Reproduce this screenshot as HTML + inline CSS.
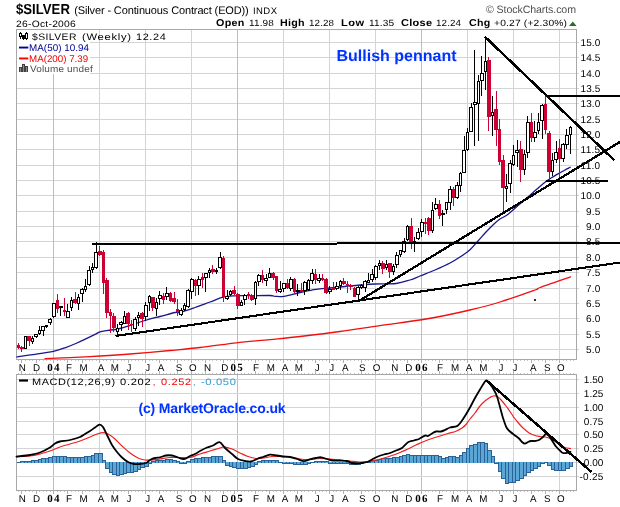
<!DOCTYPE html>
<html><head><meta charset="utf-8"><title>$SILVER</title>
<style>
html,body{margin:0;padding:0;background:#fff;}
#c{position:relative;width:620px;height:507px;overflow:hidden;background:#fff;}
#c svg{position:absolute;left:0;top:0;}
#t{position:absolute;left:0;top:0;width:620px;height:507px;will-change:transform;}
#c span{position:absolute;white-space:pre;display:block;text-rendering:geometricPrecision;}
</style></head><body>
<div id="c">
<svg width="620" height="507" viewBox="0 0 620 507">
<g shape-rendering="crispEdges">
<rect x="16" y="42" width="563" height="1" fill="#d4d4d4"/>
<rect x="16" y="57" width="563" height="1" fill="#d4d4d4"/>
<rect x="16" y="73" width="563" height="1" fill="#d4d4d4"/>
<rect x="16" y="88" width="563" height="1" fill="#d4d4d4"/>
<rect x="16" y="103" width="563" height="1" fill="#d4d4d4"/>
<rect x="16" y="119" width="563" height="1" fill="#d4d4d4"/>
<rect x="16" y="134" width="563" height="1" fill="#d4d4d4"/>
<rect x="16" y="149" width="563" height="1" fill="#d4d4d4"/>
<rect x="16" y="165" width="563" height="1" fill="#d4d4d4"/>
<rect x="16" y="180" width="563" height="1" fill="#d4d4d4"/>
<rect x="16" y="195" width="563" height="1" fill="#d4d4d4"/>
<rect x="16" y="211" width="563" height="1" fill="#d4d4d4"/>
<rect x="16" y="226" width="563" height="1" fill="#d4d4d4"/>
<rect x="16" y="241" width="563" height="1" fill="#d4d4d4"/>
<rect x="16" y="257" width="563" height="1" fill="#d4d4d4"/>
<rect x="16" y="272" width="563" height="1" fill="#d4d4d4"/>
<rect x="16" y="288" width="563" height="1" fill="#d4d4d4"/>
<rect x="16" y="303" width="563" height="1" fill="#d4d4d4"/>
<rect x="16" y="318" width="563" height="1" fill="#d4d4d4"/>
<rect x="16" y="334" width="563" height="1" fill="#d4d4d4"/>
<rect x="16" y="349" width="563" height="1" fill="#d4d4d4"/>
<rect x="53" y="29" width="1" height="330" fill="#bdbdbd"/>
<rect x="53" y="374" width="1" height="116" fill="#bdbdbd"/>
<rect x="99" y="29" width="1" height="330" fill="#d4d4d4"/>
<rect x="99" y="374" width="1" height="116" fill="#d4d4d4"/>
<rect x="145" y="29" width="1" height="330" fill="#d4d4d4"/>
<rect x="145" y="374" width="1" height="116" fill="#d4d4d4"/>
<rect x="191" y="29" width="1" height="330" fill="#d4d4d4"/>
<rect x="191" y="374" width="1" height="116" fill="#d4d4d4"/>
<rect x="237" y="29" width="1" height="330" fill="#bdbdbd"/>
<rect x="237" y="374" width="1" height="116" fill="#bdbdbd"/>
<rect x="283" y="29" width="1" height="330" fill="#d4d4d4"/>
<rect x="283" y="374" width="1" height="116" fill="#d4d4d4"/>
<rect x="329" y="29" width="1" height="330" fill="#d4d4d4"/>
<rect x="329" y="374" width="1" height="116" fill="#d4d4d4"/>
<rect x="375" y="29" width="1" height="330" fill="#d4d4d4"/>
<rect x="375" y="374" width="1" height="116" fill="#d4d4d4"/>
<rect x="421" y="29" width="1" height="330" fill="#bdbdbd"/>
<rect x="421" y="374" width="1" height="116" fill="#bdbdbd"/>
<rect x="467" y="29" width="1" height="330" fill="#d4d4d4"/>
<rect x="467" y="374" width="1" height="116" fill="#d4d4d4"/>
<rect x="513" y="29" width="1" height="330" fill="#d4d4d4"/>
<rect x="513" y="374" width="1" height="116" fill="#d4d4d4"/>
<rect x="559" y="29" width="1" height="330" fill="#d4d4d4"/>
<rect x="559" y="374" width="1" height="116" fill="#d4d4d4"/>
<rect x="16" y="476" width="563" height="1" fill="#d4d4d4"/>
<rect x="16" y="462" width="563" height="1" fill="#d4d4d4"/>
<rect x="16" y="448" width="563" height="1" fill="#d4d4d4"/>
<rect x="16" y="434" width="563" height="1" fill="#d4d4d4"/>
<rect x="16" y="421" width="563" height="1" fill="#d4d4d4"/>
<rect x="16" y="407" width="563" height="1" fill="#d4d4d4"/>
<rect x="16" y="393" width="563" height="1" fill="#d4d4d4"/>
<rect x="16" y="379" width="563" height="1" fill="#d4d4d4"/>
<rect x="16" y="29" width="561" height="1" fill="#a8a8a8"/>
<rect x="16" y="359" width="561" height="1" fill="#a8a8a8"/>
<rect x="16" y="29" width="1" height="331" fill="#a8a8a8"/>
<rect x="576" y="29" width="1" height="331" fill="#a8a8a8"/>
<rect x="16" y="374" width="561" height="1" fill="#a8a8a8"/>
<rect x="16" y="490" width="561" height="1" fill="#a8a8a8"/>
<rect x="16" y="374" width="1" height="117" fill="#a8a8a8"/>
<rect x="576" y="374" width="1" height="117" fill="#a8a8a8"/>
<rect x="18" y="360" width="1" height="1" fill="#c4c4c4"/>
<rect x="18" y="373" width="1" height="1" fill="#c4c4c4"/>
<rect x="18" y="491" width="1" height="1" fill="#c4c4c4"/>
<rect x="21" y="360" width="1" height="3" fill="#b0b0b0"/>
<rect x="21" y="371" width="1" height="3" fill="#b0b0b0"/>
<rect x="21" y="491" width="1" height="3" fill="#b0b0b0"/>
<rect x="25" y="360" width="1" height="1" fill="#c4c4c4"/>
<rect x="25" y="373" width="1" height="1" fill="#c4c4c4"/>
<rect x="25" y="491" width="1" height="1" fill="#c4c4c4"/>
<rect x="29" y="360" width="1" height="1" fill="#c4c4c4"/>
<rect x="29" y="373" width="1" height="1" fill="#c4c4c4"/>
<rect x="29" y="491" width="1" height="1" fill="#c4c4c4"/>
<rect x="32" y="360" width="1" height="1" fill="#c4c4c4"/>
<rect x="32" y="373" width="1" height="1" fill="#c4c4c4"/>
<rect x="32" y="491" width="1" height="1" fill="#c4c4c4"/>
<rect x="36" y="360" width="1" height="3" fill="#b0b0b0"/>
<rect x="36" y="371" width="1" height="3" fill="#b0b0b0"/>
<rect x="36" y="491" width="1" height="3" fill="#b0b0b0"/>
<rect x="39" y="360" width="1" height="1" fill="#c4c4c4"/>
<rect x="39" y="373" width="1" height="1" fill="#c4c4c4"/>
<rect x="39" y="491" width="1" height="1" fill="#c4c4c4"/>
<rect x="43" y="360" width="1" height="1" fill="#c4c4c4"/>
<rect x="43" y="373" width="1" height="1" fill="#c4c4c4"/>
<rect x="43" y="491" width="1" height="1" fill="#c4c4c4"/>
<rect x="46" y="360" width="1" height="1" fill="#c4c4c4"/>
<rect x="46" y="373" width="1" height="1" fill="#c4c4c4"/>
<rect x="46" y="491" width="1" height="1" fill="#c4c4c4"/>
<rect x="50" y="360" width="1" height="1" fill="#c4c4c4"/>
<rect x="50" y="373" width="1" height="1" fill="#c4c4c4"/>
<rect x="50" y="491" width="1" height="1" fill="#c4c4c4"/>
<rect x="53" y="360" width="1" height="3" fill="#b0b0b0"/>
<rect x="53" y="371" width="1" height="3" fill="#b0b0b0"/>
<rect x="53" y="491" width="1" height="3" fill="#b0b0b0"/>
<rect x="57" y="360" width="1" height="1" fill="#c4c4c4"/>
<rect x="57" y="373" width="1" height="1" fill="#c4c4c4"/>
<rect x="57" y="491" width="1" height="1" fill="#c4c4c4"/>
<rect x="60" y="360" width="1" height="1" fill="#c4c4c4"/>
<rect x="60" y="373" width="1" height="1" fill="#c4c4c4"/>
<rect x="60" y="491" width="1" height="1" fill="#c4c4c4"/>
<rect x="64" y="360" width="1" height="1" fill="#c4c4c4"/>
<rect x="64" y="373" width="1" height="1" fill="#c4c4c4"/>
<rect x="64" y="491" width="1" height="1" fill="#c4c4c4"/>
<rect x="67" y="360" width="1" height="3" fill="#b0b0b0"/>
<rect x="67" y="371" width="1" height="3" fill="#b0b0b0"/>
<rect x="67" y="491" width="1" height="3" fill="#b0b0b0"/>
<rect x="71" y="360" width="1" height="1" fill="#c4c4c4"/>
<rect x="71" y="373" width="1" height="1" fill="#c4c4c4"/>
<rect x="71" y="491" width="1" height="1" fill="#c4c4c4"/>
<rect x="75" y="360" width="1" height="1" fill="#c4c4c4"/>
<rect x="75" y="373" width="1" height="1" fill="#c4c4c4"/>
<rect x="75" y="491" width="1" height="1" fill="#c4c4c4"/>
<rect x="78" y="360" width="1" height="1" fill="#c4c4c4"/>
<rect x="78" y="373" width="1" height="1" fill="#c4c4c4"/>
<rect x="78" y="491" width="1" height="1" fill="#c4c4c4"/>
<rect x="82" y="360" width="1" height="3" fill="#b0b0b0"/>
<rect x="82" y="371" width="1" height="3" fill="#b0b0b0"/>
<rect x="82" y="491" width="1" height="3" fill="#b0b0b0"/>
<rect x="85" y="360" width="1" height="1" fill="#c4c4c4"/>
<rect x="85" y="373" width="1" height="1" fill="#c4c4c4"/>
<rect x="85" y="491" width="1" height="1" fill="#c4c4c4"/>
<rect x="89" y="360" width="1" height="1" fill="#c4c4c4"/>
<rect x="89" y="373" width="1" height="1" fill="#c4c4c4"/>
<rect x="89" y="491" width="1" height="1" fill="#c4c4c4"/>
<rect x="92" y="360" width="1" height="1" fill="#c4c4c4"/>
<rect x="92" y="373" width="1" height="1" fill="#c4c4c4"/>
<rect x="92" y="491" width="1" height="1" fill="#c4c4c4"/>
<rect x="96" y="360" width="1" height="1" fill="#c4c4c4"/>
<rect x="96" y="373" width="1" height="1" fill="#c4c4c4"/>
<rect x="96" y="491" width="1" height="1" fill="#c4c4c4"/>
<rect x="99" y="360" width="1" height="3" fill="#b0b0b0"/>
<rect x="99" y="371" width="1" height="3" fill="#b0b0b0"/>
<rect x="99" y="491" width="1" height="3" fill="#b0b0b0"/>
<rect x="103" y="360" width="1" height="1" fill="#c4c4c4"/>
<rect x="103" y="373" width="1" height="1" fill="#c4c4c4"/>
<rect x="103" y="491" width="1" height="1" fill="#c4c4c4"/>
<rect x="106" y="360" width="1" height="1" fill="#c4c4c4"/>
<rect x="106" y="373" width="1" height="1" fill="#c4c4c4"/>
<rect x="106" y="491" width="1" height="1" fill="#c4c4c4"/>
<rect x="110" y="360" width="1" height="1" fill="#c4c4c4"/>
<rect x="110" y="373" width="1" height="1" fill="#c4c4c4"/>
<rect x="110" y="491" width="1" height="1" fill="#c4c4c4"/>
<rect x="113" y="360" width="1" height="3" fill="#b0b0b0"/>
<rect x="113" y="371" width="1" height="3" fill="#b0b0b0"/>
<rect x="113" y="491" width="1" height="3" fill="#b0b0b0"/>
<rect x="117" y="360" width="1" height="1" fill="#c4c4c4"/>
<rect x="117" y="373" width="1" height="1" fill="#c4c4c4"/>
<rect x="117" y="491" width="1" height="1" fill="#c4c4c4"/>
<rect x="121" y="360" width="1" height="1" fill="#c4c4c4"/>
<rect x="121" y="373" width="1" height="1" fill="#c4c4c4"/>
<rect x="121" y="491" width="1" height="1" fill="#c4c4c4"/>
<rect x="124" y="360" width="1" height="1" fill="#c4c4c4"/>
<rect x="124" y="373" width="1" height="1" fill="#c4c4c4"/>
<rect x="124" y="491" width="1" height="1" fill="#c4c4c4"/>
<rect x="128" y="360" width="1" height="3" fill="#b0b0b0"/>
<rect x="128" y="371" width="1" height="3" fill="#b0b0b0"/>
<rect x="128" y="491" width="1" height="3" fill="#b0b0b0"/>
<rect x="131" y="360" width="1" height="1" fill="#c4c4c4"/>
<rect x="131" y="373" width="1" height="1" fill="#c4c4c4"/>
<rect x="131" y="491" width="1" height="1" fill="#c4c4c4"/>
<rect x="135" y="360" width="1" height="1" fill="#c4c4c4"/>
<rect x="135" y="373" width="1" height="1" fill="#c4c4c4"/>
<rect x="135" y="491" width="1" height="1" fill="#c4c4c4"/>
<rect x="138" y="360" width="1" height="1" fill="#c4c4c4"/>
<rect x="138" y="373" width="1" height="1" fill="#c4c4c4"/>
<rect x="138" y="491" width="1" height="1" fill="#c4c4c4"/>
<rect x="142" y="360" width="1" height="1" fill="#c4c4c4"/>
<rect x="142" y="373" width="1" height="1" fill="#c4c4c4"/>
<rect x="142" y="491" width="1" height="1" fill="#c4c4c4"/>
<rect x="145" y="360" width="1" height="3" fill="#b0b0b0"/>
<rect x="145" y="371" width="1" height="3" fill="#b0b0b0"/>
<rect x="145" y="491" width="1" height="3" fill="#b0b0b0"/>
<rect x="149" y="360" width="1" height="1" fill="#c4c4c4"/>
<rect x="149" y="373" width="1" height="1" fill="#c4c4c4"/>
<rect x="149" y="491" width="1" height="1" fill="#c4c4c4"/>
<rect x="152" y="360" width="1" height="1" fill="#c4c4c4"/>
<rect x="152" y="373" width="1" height="1" fill="#c4c4c4"/>
<rect x="152" y="491" width="1" height="1" fill="#c4c4c4"/>
<rect x="156" y="360" width="1" height="1" fill="#c4c4c4"/>
<rect x="156" y="373" width="1" height="1" fill="#c4c4c4"/>
<rect x="156" y="491" width="1" height="1" fill="#c4c4c4"/>
<rect x="159" y="360" width="1" height="3" fill="#b0b0b0"/>
<rect x="159" y="371" width="1" height="3" fill="#b0b0b0"/>
<rect x="159" y="491" width="1" height="3" fill="#b0b0b0"/>
<rect x="163" y="360" width="1" height="1" fill="#c4c4c4"/>
<rect x="163" y="373" width="1" height="1" fill="#c4c4c4"/>
<rect x="163" y="491" width="1" height="1" fill="#c4c4c4"/>
<rect x="166" y="360" width="1" height="1" fill="#c4c4c4"/>
<rect x="166" y="373" width="1" height="1" fill="#c4c4c4"/>
<rect x="166" y="491" width="1" height="1" fill="#c4c4c4"/>
<rect x="170" y="360" width="1" height="1" fill="#c4c4c4"/>
<rect x="170" y="373" width="1" height="1" fill="#c4c4c4"/>
<rect x="170" y="491" width="1" height="1" fill="#c4c4c4"/>
<rect x="174" y="360" width="1" height="1" fill="#c4c4c4"/>
<rect x="174" y="373" width="1" height="1" fill="#c4c4c4"/>
<rect x="174" y="491" width="1" height="1" fill="#c4c4c4"/>
<rect x="177" y="360" width="1" height="3" fill="#b0b0b0"/>
<rect x="177" y="371" width="1" height="3" fill="#b0b0b0"/>
<rect x="177" y="491" width="1" height="3" fill="#b0b0b0"/>
<rect x="181" y="360" width="1" height="1" fill="#c4c4c4"/>
<rect x="181" y="373" width="1" height="1" fill="#c4c4c4"/>
<rect x="181" y="491" width="1" height="1" fill="#c4c4c4"/>
<rect x="184" y="360" width="1" height="1" fill="#c4c4c4"/>
<rect x="184" y="373" width="1" height="1" fill="#c4c4c4"/>
<rect x="184" y="491" width="1" height="1" fill="#c4c4c4"/>
<rect x="188" y="360" width="1" height="1" fill="#c4c4c4"/>
<rect x="188" y="373" width="1" height="1" fill="#c4c4c4"/>
<rect x="188" y="491" width="1" height="1" fill="#c4c4c4"/>
<rect x="191" y="360" width="1" height="3" fill="#b0b0b0"/>
<rect x="191" y="371" width="1" height="3" fill="#b0b0b0"/>
<rect x="191" y="491" width="1" height="3" fill="#b0b0b0"/>
<rect x="195" y="360" width="1" height="1" fill="#c4c4c4"/>
<rect x="195" y="373" width="1" height="1" fill="#c4c4c4"/>
<rect x="195" y="491" width="1" height="1" fill="#c4c4c4"/>
<rect x="198" y="360" width="1" height="1" fill="#c4c4c4"/>
<rect x="198" y="373" width="1" height="1" fill="#c4c4c4"/>
<rect x="198" y="491" width="1" height="1" fill="#c4c4c4"/>
<rect x="202" y="360" width="1" height="1" fill="#c4c4c4"/>
<rect x="202" y="373" width="1" height="1" fill="#c4c4c4"/>
<rect x="202" y="491" width="1" height="1" fill="#c4c4c4"/>
<rect x="205" y="360" width="1" height="3" fill="#b0b0b0"/>
<rect x="205" y="371" width="1" height="3" fill="#b0b0b0"/>
<rect x="205" y="491" width="1" height="3" fill="#b0b0b0"/>
<rect x="209" y="360" width="1" height="1" fill="#c4c4c4"/>
<rect x="209" y="373" width="1" height="1" fill="#c4c4c4"/>
<rect x="209" y="491" width="1" height="1" fill="#c4c4c4"/>
<rect x="212" y="360" width="1" height="1" fill="#c4c4c4"/>
<rect x="212" y="373" width="1" height="1" fill="#c4c4c4"/>
<rect x="212" y="491" width="1" height="1" fill="#c4c4c4"/>
<rect x="216" y="360" width="1" height="1" fill="#c4c4c4"/>
<rect x="216" y="373" width="1" height="1" fill="#c4c4c4"/>
<rect x="216" y="491" width="1" height="1" fill="#c4c4c4"/>
<rect x="220" y="360" width="1" height="1" fill="#c4c4c4"/>
<rect x="220" y="373" width="1" height="1" fill="#c4c4c4"/>
<rect x="220" y="491" width="1" height="1" fill="#c4c4c4"/>
<rect x="223" y="360" width="1" height="3" fill="#b0b0b0"/>
<rect x="223" y="371" width="1" height="3" fill="#b0b0b0"/>
<rect x="223" y="491" width="1" height="3" fill="#b0b0b0"/>
<rect x="227" y="360" width="1" height="1" fill="#c4c4c4"/>
<rect x="227" y="373" width="1" height="1" fill="#c4c4c4"/>
<rect x="227" y="491" width="1" height="1" fill="#c4c4c4"/>
<rect x="230" y="360" width="1" height="1" fill="#c4c4c4"/>
<rect x="230" y="373" width="1" height="1" fill="#c4c4c4"/>
<rect x="230" y="491" width="1" height="1" fill="#c4c4c4"/>
<rect x="234" y="360" width="1" height="3" fill="#b0b0b0"/>
<rect x="234" y="371" width="1" height="3" fill="#b0b0b0"/>
<rect x="234" y="491" width="1" height="3" fill="#b0b0b0"/>
<rect x="237" y="360" width="1" height="1" fill="#c4c4c4"/>
<rect x="237" y="373" width="1" height="1" fill="#c4c4c4"/>
<rect x="237" y="491" width="1" height="1" fill="#c4c4c4"/>
<rect x="241" y="360" width="1" height="1" fill="#c4c4c4"/>
<rect x="241" y="373" width="1" height="1" fill="#c4c4c4"/>
<rect x="241" y="491" width="1" height="1" fill="#c4c4c4"/>
<rect x="244" y="360" width="1" height="1" fill="#c4c4c4"/>
<rect x="244" y="373" width="1" height="1" fill="#c4c4c4"/>
<rect x="244" y="491" width="1" height="1" fill="#c4c4c4"/>
<rect x="248" y="360" width="1" height="1" fill="#c4c4c4"/>
<rect x="248" y="373" width="1" height="1" fill="#c4c4c4"/>
<rect x="248" y="491" width="1" height="1" fill="#c4c4c4"/>
<rect x="251" y="360" width="1" height="1" fill="#c4c4c4"/>
<rect x="251" y="373" width="1" height="1" fill="#c4c4c4"/>
<rect x="251" y="491" width="1" height="1" fill="#c4c4c4"/>
<rect x="255" y="360" width="1" height="3" fill="#b0b0b0"/>
<rect x="255" y="371" width="1" height="3" fill="#b0b0b0"/>
<rect x="255" y="491" width="1" height="3" fill="#b0b0b0"/>
<rect x="258" y="360" width="1" height="1" fill="#c4c4c4"/>
<rect x="258" y="373" width="1" height="1" fill="#c4c4c4"/>
<rect x="258" y="491" width="1" height="1" fill="#c4c4c4"/>
<rect x="262" y="360" width="1" height="1" fill="#c4c4c4"/>
<rect x="262" y="373" width="1" height="1" fill="#c4c4c4"/>
<rect x="262" y="491" width="1" height="1" fill="#c4c4c4"/>
<rect x="266" y="360" width="1" height="1" fill="#c4c4c4"/>
<rect x="266" y="373" width="1" height="1" fill="#c4c4c4"/>
<rect x="266" y="491" width="1" height="1" fill="#c4c4c4"/>
<rect x="269" y="360" width="1" height="3" fill="#b0b0b0"/>
<rect x="269" y="371" width="1" height="3" fill="#b0b0b0"/>
<rect x="269" y="491" width="1" height="3" fill="#b0b0b0"/>
<rect x="273" y="360" width="1" height="1" fill="#c4c4c4"/>
<rect x="273" y="373" width="1" height="1" fill="#c4c4c4"/>
<rect x="273" y="491" width="1" height="1" fill="#c4c4c4"/>
<rect x="276" y="360" width="1" height="1" fill="#c4c4c4"/>
<rect x="276" y="373" width="1" height="1" fill="#c4c4c4"/>
<rect x="276" y="491" width="1" height="1" fill="#c4c4c4"/>
<rect x="280" y="360" width="1" height="1" fill="#c4c4c4"/>
<rect x="280" y="373" width="1" height="1" fill="#c4c4c4"/>
<rect x="280" y="491" width="1" height="1" fill="#c4c4c4"/>
<rect x="283" y="360" width="1" height="3" fill="#b0b0b0"/>
<rect x="283" y="371" width="1" height="3" fill="#b0b0b0"/>
<rect x="283" y="491" width="1" height="3" fill="#b0b0b0"/>
<rect x="287" y="360" width="1" height="1" fill="#c4c4c4"/>
<rect x="287" y="373" width="1" height="1" fill="#c4c4c4"/>
<rect x="287" y="491" width="1" height="1" fill="#c4c4c4"/>
<rect x="290" y="360" width="1" height="1" fill="#c4c4c4"/>
<rect x="290" y="373" width="1" height="1" fill="#c4c4c4"/>
<rect x="290" y="491" width="1" height="1" fill="#c4c4c4"/>
<rect x="294" y="360" width="1" height="1" fill="#c4c4c4"/>
<rect x="294" y="373" width="1" height="1" fill="#c4c4c4"/>
<rect x="294" y="491" width="1" height="1" fill="#c4c4c4"/>
<rect x="297" y="360" width="1" height="3" fill="#b0b0b0"/>
<rect x="297" y="371" width="1" height="3" fill="#b0b0b0"/>
<rect x="297" y="491" width="1" height="3" fill="#b0b0b0"/>
<rect x="301" y="360" width="1" height="1" fill="#c4c4c4"/>
<rect x="301" y="373" width="1" height="1" fill="#c4c4c4"/>
<rect x="301" y="491" width="1" height="1" fill="#c4c4c4"/>
<rect x="304" y="360" width="1" height="1" fill="#c4c4c4"/>
<rect x="304" y="373" width="1" height="1" fill="#c4c4c4"/>
<rect x="304" y="491" width="1" height="1" fill="#c4c4c4"/>
<rect x="308" y="360" width="1" height="1" fill="#c4c4c4"/>
<rect x="308" y="373" width="1" height="1" fill="#c4c4c4"/>
<rect x="308" y="491" width="1" height="1" fill="#c4c4c4"/>
<rect x="312" y="360" width="1" height="1" fill="#c4c4c4"/>
<rect x="312" y="373" width="1" height="1" fill="#c4c4c4"/>
<rect x="312" y="491" width="1" height="1" fill="#c4c4c4"/>
<rect x="315" y="360" width="1" height="3" fill="#b0b0b0"/>
<rect x="315" y="371" width="1" height="3" fill="#b0b0b0"/>
<rect x="315" y="491" width="1" height="3" fill="#b0b0b0"/>
<rect x="319" y="360" width="1" height="1" fill="#c4c4c4"/>
<rect x="319" y="373" width="1" height="1" fill="#c4c4c4"/>
<rect x="319" y="491" width="1" height="1" fill="#c4c4c4"/>
<rect x="322" y="360" width="1" height="1" fill="#c4c4c4"/>
<rect x="322" y="373" width="1" height="1" fill="#c4c4c4"/>
<rect x="322" y="491" width="1" height="1" fill="#c4c4c4"/>
<rect x="326" y="360" width="1" height="1" fill="#c4c4c4"/>
<rect x="326" y="373" width="1" height="1" fill="#c4c4c4"/>
<rect x="326" y="491" width="1" height="1" fill="#c4c4c4"/>
<rect x="329" y="360" width="1" height="3" fill="#b0b0b0"/>
<rect x="329" y="371" width="1" height="3" fill="#b0b0b0"/>
<rect x="329" y="491" width="1" height="3" fill="#b0b0b0"/>
<rect x="333" y="360" width="1" height="1" fill="#c4c4c4"/>
<rect x="333" y="373" width="1" height="1" fill="#c4c4c4"/>
<rect x="333" y="491" width="1" height="1" fill="#c4c4c4"/>
<rect x="336" y="360" width="1" height="1" fill="#c4c4c4"/>
<rect x="336" y="373" width="1" height="1" fill="#c4c4c4"/>
<rect x="336" y="491" width="1" height="1" fill="#c4c4c4"/>
<rect x="340" y="360" width="1" height="1" fill="#c4c4c4"/>
<rect x="340" y="373" width="1" height="1" fill="#c4c4c4"/>
<rect x="340" y="491" width="1" height="1" fill="#c4c4c4"/>
<rect x="343" y="360" width="1" height="3" fill="#b0b0b0"/>
<rect x="343" y="371" width="1" height="3" fill="#b0b0b0"/>
<rect x="343" y="491" width="1" height="3" fill="#b0b0b0"/>
<rect x="347" y="360" width="1" height="1" fill="#c4c4c4"/>
<rect x="347" y="373" width="1" height="1" fill="#c4c4c4"/>
<rect x="347" y="491" width="1" height="1" fill="#c4c4c4"/>
<rect x="350" y="360" width="1" height="1" fill="#c4c4c4"/>
<rect x="350" y="373" width="1" height="1" fill="#c4c4c4"/>
<rect x="350" y="491" width="1" height="1" fill="#c4c4c4"/>
<rect x="354" y="360" width="1" height="1" fill="#c4c4c4"/>
<rect x="354" y="373" width="1" height="1" fill="#c4c4c4"/>
<rect x="354" y="491" width="1" height="1" fill="#c4c4c4"/>
<rect x="358" y="360" width="1" height="1" fill="#c4c4c4"/>
<rect x="358" y="373" width="1" height="1" fill="#c4c4c4"/>
<rect x="358" y="491" width="1" height="1" fill="#c4c4c4"/>
<rect x="361" y="360" width="1" height="3" fill="#b0b0b0"/>
<rect x="361" y="371" width="1" height="3" fill="#b0b0b0"/>
<rect x="361" y="491" width="1" height="3" fill="#b0b0b0"/>
<rect x="365" y="360" width="1" height="1" fill="#c4c4c4"/>
<rect x="365" y="373" width="1" height="1" fill="#c4c4c4"/>
<rect x="365" y="491" width="1" height="1" fill="#c4c4c4"/>
<rect x="368" y="360" width="1" height="1" fill="#c4c4c4"/>
<rect x="368" y="373" width="1" height="1" fill="#c4c4c4"/>
<rect x="368" y="491" width="1" height="1" fill="#c4c4c4"/>
<rect x="372" y="360" width="1" height="1" fill="#c4c4c4"/>
<rect x="372" y="373" width="1" height="1" fill="#c4c4c4"/>
<rect x="372" y="491" width="1" height="1" fill="#c4c4c4"/>
<rect x="375" y="360" width="1" height="3" fill="#b0b0b0"/>
<rect x="375" y="371" width="1" height="3" fill="#b0b0b0"/>
<rect x="375" y="491" width="1" height="3" fill="#b0b0b0"/>
<rect x="379" y="360" width="1" height="1" fill="#c4c4c4"/>
<rect x="379" y="373" width="1" height="1" fill="#c4c4c4"/>
<rect x="379" y="491" width="1" height="1" fill="#c4c4c4"/>
<rect x="382" y="360" width="1" height="1" fill="#c4c4c4"/>
<rect x="382" y="373" width="1" height="1" fill="#c4c4c4"/>
<rect x="382" y="491" width="1" height="1" fill="#c4c4c4"/>
<rect x="386" y="360" width="1" height="1" fill="#c4c4c4"/>
<rect x="386" y="373" width="1" height="1" fill="#c4c4c4"/>
<rect x="386" y="491" width="1" height="1" fill="#c4c4c4"/>
<rect x="389" y="360" width="1" height="1" fill="#c4c4c4"/>
<rect x="389" y="373" width="1" height="1" fill="#c4c4c4"/>
<rect x="389" y="491" width="1" height="1" fill="#c4c4c4"/>
<rect x="393" y="360" width="1" height="3" fill="#b0b0b0"/>
<rect x="393" y="371" width="1" height="3" fill="#b0b0b0"/>
<rect x="393" y="491" width="1" height="3" fill="#b0b0b0"/>
<rect x="396" y="360" width="1" height="1" fill="#c4c4c4"/>
<rect x="396" y="373" width="1" height="1" fill="#c4c4c4"/>
<rect x="396" y="491" width="1" height="1" fill="#c4c4c4"/>
<rect x="400" y="360" width="1" height="1" fill="#c4c4c4"/>
<rect x="400" y="373" width="1" height="1" fill="#c4c4c4"/>
<rect x="400" y="491" width="1" height="1" fill="#c4c4c4"/>
<rect x="404" y="360" width="1" height="1" fill="#c4c4c4"/>
<rect x="404" y="373" width="1" height="1" fill="#c4c4c4"/>
<rect x="404" y="491" width="1" height="1" fill="#c4c4c4"/>
<rect x="407" y="360" width="1" height="3" fill="#b0b0b0"/>
<rect x="407" y="371" width="1" height="3" fill="#b0b0b0"/>
<rect x="407" y="491" width="1" height="3" fill="#b0b0b0"/>
<rect x="411" y="360" width="1" height="1" fill="#c4c4c4"/>
<rect x="411" y="373" width="1" height="1" fill="#c4c4c4"/>
<rect x="411" y="491" width="1" height="1" fill="#c4c4c4"/>
<rect x="414" y="360" width="1" height="1" fill="#c4c4c4"/>
<rect x="414" y="373" width="1" height="1" fill="#c4c4c4"/>
<rect x="414" y="491" width="1" height="1" fill="#c4c4c4"/>
<rect x="418" y="360" width="1" height="1" fill="#c4c4c4"/>
<rect x="418" y="373" width="1" height="1" fill="#c4c4c4"/>
<rect x="418" y="491" width="1" height="1" fill="#c4c4c4"/>
<rect x="421" y="360" width="1" height="3" fill="#b0b0b0"/>
<rect x="421" y="371" width="1" height="3" fill="#b0b0b0"/>
<rect x="421" y="491" width="1" height="3" fill="#b0b0b0"/>
<rect x="425" y="360" width="1" height="1" fill="#c4c4c4"/>
<rect x="425" y="373" width="1" height="1" fill="#c4c4c4"/>
<rect x="425" y="491" width="1" height="1" fill="#c4c4c4"/>
<rect x="428" y="360" width="1" height="1" fill="#c4c4c4"/>
<rect x="428" y="373" width="1" height="1" fill="#c4c4c4"/>
<rect x="428" y="491" width="1" height="1" fill="#c4c4c4"/>
<rect x="432" y="360" width="1" height="1" fill="#c4c4c4"/>
<rect x="432" y="373" width="1" height="1" fill="#c4c4c4"/>
<rect x="432" y="491" width="1" height="1" fill="#c4c4c4"/>
<rect x="435" y="360" width="1" height="1" fill="#c4c4c4"/>
<rect x="435" y="373" width="1" height="1" fill="#c4c4c4"/>
<rect x="435" y="491" width="1" height="1" fill="#c4c4c4"/>
<rect x="439" y="360" width="1" height="3" fill="#b0b0b0"/>
<rect x="439" y="371" width="1" height="3" fill="#b0b0b0"/>
<rect x="439" y="491" width="1" height="3" fill="#b0b0b0"/>
<rect x="442" y="360" width="1" height="1" fill="#c4c4c4"/>
<rect x="442" y="373" width="1" height="1" fill="#c4c4c4"/>
<rect x="442" y="491" width="1" height="1" fill="#c4c4c4"/>
<rect x="446" y="360" width="1" height="1" fill="#c4c4c4"/>
<rect x="446" y="373" width="1" height="1" fill="#c4c4c4"/>
<rect x="446" y="491" width="1" height="1" fill="#c4c4c4"/>
<rect x="450" y="360" width="1" height="1" fill="#c4c4c4"/>
<rect x="450" y="373" width="1" height="1" fill="#c4c4c4"/>
<rect x="450" y="491" width="1" height="1" fill="#c4c4c4"/>
<rect x="453" y="360" width="1" height="3" fill="#b0b0b0"/>
<rect x="453" y="371" width="1" height="3" fill="#b0b0b0"/>
<rect x="453" y="491" width="1" height="3" fill="#b0b0b0"/>
<rect x="457" y="360" width="1" height="1" fill="#c4c4c4"/>
<rect x="457" y="373" width="1" height="1" fill="#c4c4c4"/>
<rect x="457" y="491" width="1" height="1" fill="#c4c4c4"/>
<rect x="460" y="360" width="1" height="1" fill="#c4c4c4"/>
<rect x="460" y="373" width="1" height="1" fill="#c4c4c4"/>
<rect x="460" y="491" width="1" height="1" fill="#c4c4c4"/>
<rect x="464" y="360" width="1" height="1" fill="#c4c4c4"/>
<rect x="464" y="373" width="1" height="1" fill="#c4c4c4"/>
<rect x="464" y="491" width="1" height="1" fill="#c4c4c4"/>
<rect x="467" y="360" width="1" height="3" fill="#b0b0b0"/>
<rect x="467" y="371" width="1" height="3" fill="#b0b0b0"/>
<rect x="467" y="491" width="1" height="3" fill="#b0b0b0"/>
<rect x="471" y="360" width="1" height="1" fill="#c4c4c4"/>
<rect x="471" y="373" width="1" height="1" fill="#c4c4c4"/>
<rect x="471" y="491" width="1" height="1" fill="#c4c4c4"/>
<rect x="474" y="360" width="1" height="1" fill="#c4c4c4"/>
<rect x="474" y="373" width="1" height="1" fill="#c4c4c4"/>
<rect x="474" y="491" width="1" height="1" fill="#c4c4c4"/>
<rect x="478" y="360" width="1" height="1" fill="#c4c4c4"/>
<rect x="478" y="373" width="1" height="1" fill="#c4c4c4"/>
<rect x="478" y="491" width="1" height="1" fill="#c4c4c4"/>
<rect x="481" y="360" width="1" height="3" fill="#b0b0b0"/>
<rect x="481" y="371" width="1" height="3" fill="#b0b0b0"/>
<rect x="481" y="491" width="1" height="3" fill="#b0b0b0"/>
<rect x="485" y="360" width="1" height="1" fill="#c4c4c4"/>
<rect x="485" y="373" width="1" height="1" fill="#c4c4c4"/>
<rect x="485" y="491" width="1" height="1" fill="#c4c4c4"/>
<rect x="488" y="360" width="1" height="1" fill="#c4c4c4"/>
<rect x="488" y="373" width="1" height="1" fill="#c4c4c4"/>
<rect x="488" y="491" width="1" height="1" fill="#c4c4c4"/>
<rect x="492" y="360" width="1" height="1" fill="#c4c4c4"/>
<rect x="492" y="373" width="1" height="1" fill="#c4c4c4"/>
<rect x="492" y="491" width="1" height="1" fill="#c4c4c4"/>
<rect x="496" y="360" width="1" height="1" fill="#c4c4c4"/>
<rect x="496" y="373" width="1" height="1" fill="#c4c4c4"/>
<rect x="496" y="491" width="1" height="1" fill="#c4c4c4"/>
<rect x="499" y="360" width="1" height="3" fill="#b0b0b0"/>
<rect x="499" y="371" width="1" height="3" fill="#b0b0b0"/>
<rect x="499" y="491" width="1" height="3" fill="#b0b0b0"/>
<rect x="503" y="360" width="1" height="1" fill="#c4c4c4"/>
<rect x="503" y="373" width="1" height="1" fill="#c4c4c4"/>
<rect x="503" y="491" width="1" height="1" fill="#c4c4c4"/>
<rect x="506" y="360" width="1" height="1" fill="#c4c4c4"/>
<rect x="506" y="373" width="1" height="1" fill="#c4c4c4"/>
<rect x="506" y="491" width="1" height="1" fill="#c4c4c4"/>
<rect x="510" y="360" width="1" height="1" fill="#c4c4c4"/>
<rect x="510" y="373" width="1" height="1" fill="#c4c4c4"/>
<rect x="510" y="491" width="1" height="1" fill="#c4c4c4"/>
<rect x="513" y="360" width="1" height="3" fill="#b0b0b0"/>
<rect x="513" y="371" width="1" height="3" fill="#b0b0b0"/>
<rect x="513" y="491" width="1" height="3" fill="#b0b0b0"/>
<rect x="517" y="360" width="1" height="1" fill="#c4c4c4"/>
<rect x="517" y="373" width="1" height="1" fill="#c4c4c4"/>
<rect x="517" y="491" width="1" height="1" fill="#c4c4c4"/>
<rect x="520" y="360" width="1" height="1" fill="#c4c4c4"/>
<rect x="520" y="373" width="1" height="1" fill="#c4c4c4"/>
<rect x="520" y="491" width="1" height="1" fill="#c4c4c4"/>
<rect x="524" y="360" width="1" height="1" fill="#c4c4c4"/>
<rect x="524" y="373" width="1" height="1" fill="#c4c4c4"/>
<rect x="524" y="491" width="1" height="1" fill="#c4c4c4"/>
<rect x="527" y="360" width="1" height="1" fill="#c4c4c4"/>
<rect x="527" y="373" width="1" height="1" fill="#c4c4c4"/>
<rect x="527" y="491" width="1" height="1" fill="#c4c4c4"/>
<rect x="531" y="360" width="1" height="3" fill="#b0b0b0"/>
<rect x="531" y="371" width="1" height="3" fill="#b0b0b0"/>
<rect x="531" y="491" width="1" height="3" fill="#b0b0b0"/>
<rect x="534" y="360" width="1" height="1" fill="#c4c4c4"/>
<rect x="534" y="373" width="1" height="1" fill="#c4c4c4"/>
<rect x="534" y="491" width="1" height="1" fill="#c4c4c4"/>
<rect x="538" y="360" width="1" height="1" fill="#c4c4c4"/>
<rect x="538" y="373" width="1" height="1" fill="#c4c4c4"/>
<rect x="538" y="491" width="1" height="1" fill="#c4c4c4"/>
<rect x="542" y="360" width="1" height="1" fill="#c4c4c4"/>
<rect x="542" y="373" width="1" height="1" fill="#c4c4c4"/>
<rect x="542" y="491" width="1" height="1" fill="#c4c4c4"/>
<rect x="545" y="360" width="1" height="3" fill="#b0b0b0"/>
<rect x="545" y="371" width="1" height="3" fill="#b0b0b0"/>
<rect x="545" y="491" width="1" height="3" fill="#b0b0b0"/>
<rect x="549" y="360" width="1" height="1" fill="#c4c4c4"/>
<rect x="549" y="373" width="1" height="1" fill="#c4c4c4"/>
<rect x="549" y="491" width="1" height="1" fill="#c4c4c4"/>
<rect x="552" y="360" width="1" height="1" fill="#c4c4c4"/>
<rect x="552" y="373" width="1" height="1" fill="#c4c4c4"/>
<rect x="552" y="491" width="1" height="1" fill="#c4c4c4"/>
<rect x="556" y="360" width="1" height="1" fill="#c4c4c4"/>
<rect x="556" y="373" width="1" height="1" fill="#c4c4c4"/>
<rect x="556" y="491" width="1" height="1" fill="#c4c4c4"/>
<rect x="559" y="360" width="1" height="3" fill="#b0b0b0"/>
<rect x="559" y="371" width="1" height="3" fill="#b0b0b0"/>
<rect x="559" y="491" width="1" height="3" fill="#b0b0b0"/>
<rect x="563" y="360" width="1" height="1" fill="#c4c4c4"/>
<rect x="563" y="373" width="1" height="1" fill="#c4c4c4"/>
<rect x="563" y="491" width="1" height="1" fill="#c4c4c4"/>
<rect x="566" y="360" width="1" height="1" fill="#c4c4c4"/>
<rect x="566" y="373" width="1" height="1" fill="#c4c4c4"/>
<rect x="566" y="491" width="1" height="1" fill="#c4c4c4"/>
<rect x="570" y="360" width="1" height="1" fill="#c4c4c4"/>
<rect x="570" y="373" width="1" height="1" fill="#c4c4c4"/>
<rect x="570" y="491" width="1" height="1" fill="#c4c4c4"/>
<rect x="573" y="360" width="1" height="1" fill="#c4c4c4"/>
<rect x="573" y="373" width="1" height="1" fill="#c4c4c4"/>
<rect x="573" y="491" width="1" height="1" fill="#c4c4c4"/>
<rect x="17" y="30" width="73" height="44" fill="#fff"/>
</g>
<path d="M45.0,358.6C49.2,358.4 60.8,358.0 70.0,357.6C79.2,357.2 90.0,356.6 100.0,356.0C110.0,355.4 118.3,354.9 130.0,354.0C141.7,353.1 158.3,351.6 170.0,350.5C181.7,349.4 188.3,348.9 200.0,347.5C211.7,346.1 228.3,343.6 240.0,342.3C251.7,341.0 260.0,340.6 270.0,339.6C280.0,338.6 288.3,337.9 300.0,336.5C311.7,335.1 326.7,333.3 340.0,331.5C353.3,329.7 366.7,327.5 380.0,325.6C393.3,323.7 409.2,321.7 420.0,320.0C430.8,318.3 436.7,317.2 445.0,315.5C453.3,313.8 460.8,312.2 470.0,310.0C479.2,307.8 489.2,305.3 500.0,302.0C510.8,298.7 528.3,292.4 535.0,290.0C541.7,287.6 534.1,289.7 540.0,287.5C545.9,285.3 565.4,278.6 570.5,276.8" fill="none" stroke="#f01010" stroke-width="1.3" stroke-linejoin="round" stroke-linecap="round"/>
<path d="M17.0,356.8C20.0,356.4 28.9,355.2 35.0,354.3C41.1,353.4 48.4,352.4 53.4,351.3C58.4,350.2 61.1,349.2 65.0,347.8C68.9,346.4 72.2,345.1 77.0,343.0C81.8,340.9 90.2,336.8 94.0,334.9C97.8,333.0 97.7,332.6 100.0,331.8C102.3,331.0 104.7,330.9 108.0,330.3C111.3,329.8 113.8,330.1 120.0,328.5C126.2,326.9 138.3,322.5 145.0,320.5C151.7,318.5 155.0,317.8 160.0,316.5C165.0,315.2 171.7,313.2 175.0,312.5C178.3,311.8 176.7,313.1 180.0,312.3C183.3,311.5 190.0,309.2 195.0,307.5C200.0,305.8 205.3,303.7 210.0,302.0C214.7,300.3 218.8,298.2 223.0,297.2C227.2,296.2 230.8,296.1 235.0,295.8C239.2,295.5 242.2,295.7 248.0,295.6C253.8,295.6 265.5,295.4 270.0,295.5C274.5,295.6 272.7,296.2 275.0,296.3C277.3,296.4 279.8,296.9 284.0,296.3C288.2,295.7 294.7,293.6 300.0,292.5C305.3,291.4 311.0,290.1 316.0,289.4C321.0,288.6 325.2,288.5 330.0,288.0C334.8,287.5 340.0,287.0 345.0,286.5C350.0,286.0 355.0,285.4 360.0,285.0C365.0,284.6 369.0,284.2 375.0,284.0C381.0,283.8 390.2,284.2 396.0,283.5C401.8,282.8 406.0,281.2 410.0,280.0C414.0,278.8 415.8,277.7 420.0,276.0C424.2,274.3 430.0,272.2 435.0,270.0C440.0,267.8 445.8,265.2 450.0,263.0C454.2,260.8 456.7,259.2 460.0,257.0C463.3,254.8 467.0,252.4 470.0,249.7C473.0,247.0 475.3,243.9 478.0,241.0C480.7,238.1 483.3,234.8 486.0,232.0C488.7,229.2 491.7,226.2 494.0,224.0C496.3,221.8 497.8,220.5 500.0,219.0C502.2,217.5 504.0,217.2 507.0,215.0C510.0,212.8 514.4,208.6 518.0,205.5C521.6,202.4 525.3,199.2 528.5,196.5C531.7,193.8 534.1,191.5 537.0,189.0C539.9,186.5 543.4,183.4 545.9,181.5C548.4,179.6 549.9,178.8 552.0,177.5C554.1,176.2 556.3,174.8 558.5,173.6C560.7,172.3 563.0,171.1 565.0,170.0C567.0,168.9 569.4,167.8 570.3,167.3" fill="none" stroke="#18188c" stroke-width="1.3" stroke-linejoin="round" stroke-linecap="round"/>
<g shape-rendering="crispEdges">
<rect x="18" y="343" width="1" height="6" fill="#cc0033"/>
<rect x="17" y="345" width="3" height="3" fill="#cc0033"/>
<rect x="21" y="346" width="1" height="6" fill="#cc0033"/>
<rect x="20" y="347" width="4" height="2" fill="#cc0033"/>
<rect x="25" y="336" width="1" height="0" fill="#000"/>
<rect x="25" y="349" width="1" height="0" fill="#000"/>
<rect x="24" y="336" width="3" height="13" fill="#000"/>
<rect x="25" y="337" width="1" height="11" fill="#fff"/>
<rect x="29" y="336" width="1" height="10" fill="#cc0033"/>
<rect x="27" y="336" width="4" height="5" fill="#cc0033"/>
<rect x="32" y="336" width="1" height="2" fill="#000"/>
<rect x="32" y="342" width="1" height="2" fill="#000"/>
<rect x="31" y="338" width="3" height="4" fill="#000"/>
<rect x="32" y="339" width="1" height="2" fill="#fff"/>
<rect x="36" y="334" width="1" height="0" fill="#000"/>
<rect x="36" y="337" width="1" height="1" fill="#000"/>
<rect x="34" y="334" width="4" height="3" fill="#000"/>
<rect x="35" y="335" width="2" height="1" fill="#fff"/>
<rect x="39" y="326" width="1" height="4" fill="#000"/>
<rect x="39" y="334" width="1" height="1" fill="#000"/>
<rect x="38" y="330" width="3" height="4" fill="#000"/>
<rect x="39" y="331" width="1" height="2" fill="#fff"/>
<rect x="43" y="326" width="1" height="0" fill="#000"/>
<rect x="43" y="331" width="1" height="5" fill="#000"/>
<rect x="41" y="326" width="4" height="5" fill="#000"/>
<rect x="42" y="327" width="2" height="3" fill="#fff"/>
<rect x="46" y="325" width="1" height="3" fill="#000"/>
<rect x="45" y="325" width="3" height="2" fill="#000"/>
<rect x="50" y="318" width="1" height="1" fill="#000"/>
<rect x="50" y="323" width="1" height="2" fill="#000"/>
<rect x="48" y="319" width="4" height="4" fill="#000"/>
<rect x="49" y="320" width="2" height="2" fill="#fff"/>
<rect x="53" y="303" width="1" height="0" fill="#000"/>
<rect x="53" y="317" width="1" height="1" fill="#000"/>
<rect x="52" y="303" width="4" height="14" fill="#000"/>
<rect x="53" y="304" width="2" height="12" fill="#fff"/>
<rect x="57" y="294" width="1" height="19" fill="#cc0033"/>
<rect x="56" y="300" width="3" height="9" fill="#cc0033"/>
<rect x="60" y="306" width="1" height="10" fill="#000"/>
<rect x="59" y="306" width="4" height="2" fill="#000"/>
<rect x="64" y="298" width="1" height="18" fill="#cc0033"/>
<rect x="63" y="310" width="3" height="2" fill="#cc0033"/>
<rect x="67" y="304" width="1" height="7" fill="#000"/>
<rect x="67" y="318" width="1" height="0" fill="#000"/>
<rect x="66" y="311" width="4" height="7" fill="#000"/>
<rect x="67" y="312" width="2" height="5" fill="#fff"/>
<rect x="71" y="297" width="1" height="3" fill="#000"/>
<rect x="71" y="308" width="1" height="3" fill="#000"/>
<rect x="70" y="300" width="3" height="8" fill="#000"/>
<rect x="71" y="301" width="1" height="6" fill="#fff"/>
<rect x="75" y="292" width="1" height="12" fill="#cc0033"/>
<rect x="73" y="299" width="4" height="4" fill="#cc0033"/>
<rect x="78" y="294" width="1" height="3" fill="#000"/>
<rect x="78" y="304" width="1" height="6" fill="#000"/>
<rect x="77" y="297" width="3" height="7" fill="#000"/>
<rect x="78" y="298" width="1" height="5" fill="#fff"/>
<rect x="82" y="288" width="1" height="1" fill="#000"/>
<rect x="82" y="294" width="1" height="8" fill="#000"/>
<rect x="80" y="289" width="4" height="5" fill="#000"/>
<rect x="81" y="290" width="2" height="3" fill="#fff"/>
<rect x="85" y="279" width="1" height="7" fill="#000"/>
<rect x="85" y="290" width="1" height="2" fill="#000"/>
<rect x="84" y="286" width="3" height="4" fill="#000"/>
<rect x="85" y="287" width="1" height="2" fill="#fff"/>
<rect x="89" y="266" width="1" height="4" fill="#000"/>
<rect x="89" y="285" width="1" height="1" fill="#000"/>
<rect x="87" y="270" width="4" height="15" fill="#000"/>
<rect x="88" y="271" width="2" height="13" fill="#fff"/>
<rect x="92" y="263" width="1" height="4" fill="#000"/>
<rect x="92" y="270" width="1" height="3" fill="#000"/>
<rect x="91" y="267" width="3" height="3" fill="#000"/>
<rect x="92" y="268" width="1" height="1" fill="#fff"/>
<rect x="96" y="242" width="1" height="10" fill="#000"/>
<rect x="96" y="268" width="1" height="1" fill="#000"/>
<rect x="94" y="252" width="4" height="16" fill="#000"/>
<rect x="95" y="253" width="2" height="14" fill="#fff"/>
<rect x="99" y="246" width="1" height="10" fill="#cc0033"/>
<rect x="98" y="251" width="4" height="4" fill="#cc0033"/>
<rect x="103" y="250" width="1" height="44" fill="#cc0033"/>
<rect x="102" y="252" width="3" height="31" fill="#cc0033"/>
<rect x="106" y="278" width="1" height="40" fill="#cc0033"/>
<rect x="105" y="280" width="4" height="33" fill="#cc0033"/>
<rect x="110" y="309" width="1" height="24" fill="#cc0033"/>
<rect x="109" y="312" width="3" height="4" fill="#cc0033"/>
<rect x="113" y="313" width="1" height="19" fill="#cc0033"/>
<rect x="112" y="316" width="4" height="12" fill="#cc0033"/>
<rect x="117" y="324" width="1" height="4" fill="#000"/>
<rect x="117" y="332" width="1" height="4" fill="#000"/>
<rect x="116" y="328" width="3" height="4" fill="#000"/>
<rect x="117" y="329" width="1" height="2" fill="#fff"/>
<rect x="121" y="321" width="1" height="1" fill="#000"/>
<rect x="121" y="325" width="1" height="6" fill="#000"/>
<rect x="119" y="322" width="4" height="3" fill="#000"/>
<rect x="120" y="323" width="2" height="1" fill="#fff"/>
<rect x="124" y="311" width="1" height="5" fill="#000"/>
<rect x="124" y="324" width="1" height="0" fill="#000"/>
<rect x="123" y="316" width="3" height="8" fill="#000"/>
<rect x="124" y="317" width="1" height="6" fill="#fff"/>
<rect x="128" y="312" width="1" height="18" fill="#cc0033"/>
<rect x="126" y="313" width="4" height="11" fill="#cc0033"/>
<rect x="131" y="320" width="1" height="12" fill="#cc0033"/>
<rect x="130" y="324" width="3" height="1" fill="#cc0033"/>
<rect x="135" y="317" width="1" height="2" fill="#000"/>
<rect x="135" y="329" width="1" height="2" fill="#000"/>
<rect x="133" y="319" width="4" height="10" fill="#000"/>
<rect x="134" y="320" width="2" height="8" fill="#fff"/>
<rect x="138" y="312" width="1" height="3" fill="#000"/>
<rect x="138" y="318" width="1" height="8" fill="#000"/>
<rect x="137" y="315" width="3" height="3" fill="#000"/>
<rect x="138" y="316" width="1" height="1" fill="#fff"/>
<rect x="142" y="312" width="1" height="15" fill="#cc0033"/>
<rect x="140" y="313" width="4" height="6" fill="#cc0033"/>
<rect x="145" y="302" width="1" height="3" fill="#000"/>
<rect x="145" y="317" width="1" height="4" fill="#000"/>
<rect x="144" y="305" width="4" height="12" fill="#000"/>
<rect x="145" y="306" width="2" height="10" fill="#fff"/>
<rect x="149" y="295" width="1" height="1" fill="#000"/>
<rect x="149" y="303" width="1" height="8" fill="#000"/>
<rect x="148" y="296" width="3" height="7" fill="#000"/>
<rect x="149" y="297" width="1" height="5" fill="#fff"/>
<rect x="152" y="297" width="1" height="14" fill="#cc0033"/>
<rect x="151" y="297" width="4" height="11" fill="#cc0033"/>
<rect x="156" y="298" width="1" height="4" fill="#000"/>
<rect x="156" y="309" width="1" height="7" fill="#000"/>
<rect x="155" y="302" width="3" height="7" fill="#000"/>
<rect x="156" y="303" width="1" height="5" fill="#fff"/>
<rect x="159" y="291" width="1" height="4" fill="#000"/>
<rect x="159" y="299" width="1" height="6" fill="#000"/>
<rect x="158" y="295" width="4" height="4" fill="#000"/>
<rect x="159" y="296" width="2" height="2" fill="#fff"/>
<rect x="163" y="293" width="1" height="11" fill="#cc0033"/>
<rect x="162" y="296" width="3" height="4" fill="#cc0033"/>
<rect x="166" y="287" width="1" height="6" fill="#000"/>
<rect x="166" y="297" width="1" height="3" fill="#000"/>
<rect x="165" y="293" width="4" height="4" fill="#000"/>
<rect x="166" y="294" width="2" height="2" fill="#fff"/>
<rect x="170" y="292" width="1" height="10" fill="#cc0033"/>
<rect x="169" y="293" width="3" height="8" fill="#cc0033"/>
<rect x="174" y="292" width="1" height="12" fill="#cc0033"/>
<rect x="172" y="298" width="4" height="4" fill="#cc0033"/>
<rect x="177" y="299" width="1" height="17" fill="#cc0033"/>
<rect x="176" y="309" width="3" height="3" fill="#cc0033"/>
<rect x="181" y="308" width="1" height="2" fill="#000"/>
<rect x="181" y="315" width="1" height="1" fill="#000"/>
<rect x="179" y="310" width="4" height="5" fill="#000"/>
<rect x="180" y="311" width="2" height="3" fill="#fff"/>
<rect x="184" y="303" width="1" height="2" fill="#000"/>
<rect x="184" y="310" width="1" height="1" fill="#000"/>
<rect x="183" y="305" width="3" height="5" fill="#000"/>
<rect x="184" y="306" width="1" height="3" fill="#fff"/>
<rect x="188" y="289" width="1" height="1" fill="#000"/>
<rect x="188" y="307" width="1" height="1" fill="#000"/>
<rect x="186" y="290" width="4" height="17" fill="#000"/>
<rect x="187" y="291" width="2" height="15" fill="#fff"/>
<rect x="191" y="278" width="1" height="1" fill="#000"/>
<rect x="191" y="292" width="1" height="7" fill="#000"/>
<rect x="190" y="279" width="4" height="13" fill="#000"/>
<rect x="191" y="280" width="2" height="11" fill="#fff"/>
<rect x="195" y="279" width="1" height="17" fill="#cc0033"/>
<rect x="194" y="280" width="3" height="6" fill="#cc0033"/>
<rect x="198" y="276" width="1" height="3" fill="#000"/>
<rect x="198" y="286" width="1" height="9" fill="#000"/>
<rect x="197" y="279" width="4" height="7" fill="#000"/>
<rect x="198" y="280" width="2" height="5" fill="#fff"/>
<rect x="202" y="273" width="1" height="15" fill="#cc0033"/>
<rect x="201" y="277" width="3" height="3" fill="#cc0033"/>
<rect x="205" y="273" width="1" height="0" fill="#000"/>
<rect x="205" y="278" width="1" height="14" fill="#000"/>
<rect x="204" y="273" width="4" height="5" fill="#000"/>
<rect x="205" y="274" width="2" height="3" fill="#fff"/>
<rect x="209" y="268" width="1" height="2" fill="#000"/>
<rect x="209" y="273" width="1" height="5" fill="#000"/>
<rect x="208" y="270" width="3" height="3" fill="#000"/>
<rect x="209" y="271" width="1" height="1" fill="#fff"/>
<rect x="212" y="265" width="1" height="9" fill="#cc0033"/>
<rect x="211" y="269" width="4" height="3" fill="#cc0033"/>
<rect x="216" y="268" width="1" height="6" fill="#000"/>
<rect x="215" y="270" width="3" height="2" fill="#000"/>
<rect x="220" y="252" width="1" height="5" fill="#000"/>
<rect x="220" y="268" width="1" height="1" fill="#000"/>
<rect x="218" y="257" width="4" height="11" fill="#000"/>
<rect x="219" y="258" width="2" height="9" fill="#fff"/>
<rect x="223" y="256" width="1" height="46" fill="#cc0033"/>
<rect x="222" y="258" width="3" height="39" fill="#cc0033"/>
<rect x="227" y="290" width="1" height="6" fill="#000"/>
<rect x="227" y="299" width="1" height="1" fill="#000"/>
<rect x="225" y="296" width="4" height="3" fill="#000"/>
<rect x="226" y="297" width="2" height="1" fill="#fff"/>
<rect x="230" y="290" width="1" height="1" fill="#000"/>
<rect x="230" y="295" width="1" height="1" fill="#000"/>
<rect x="229" y="291" width="3" height="4" fill="#000"/>
<rect x="230" y="292" width="1" height="2" fill="#fff"/>
<rect x="234" y="286" width="1" height="9" fill="#cc0033"/>
<rect x="232" y="290" width="4" height="4" fill="#cc0033"/>
<rect x="237" y="293" width="1" height="16" fill="#cc0033"/>
<rect x="236" y="294" width="4" height="12" fill="#cc0033"/>
<rect x="241" y="300" width="1" height="2" fill="#000"/>
<rect x="241" y="306" width="1" height="0" fill="#000"/>
<rect x="240" y="302" width="3" height="4" fill="#000"/>
<rect x="241" y="303" width="1" height="2" fill="#fff"/>
<rect x="244" y="294" width="1" height="1" fill="#000"/>
<rect x="244" y="300" width="1" height="5" fill="#000"/>
<rect x="243" y="295" width="4" height="5" fill="#000"/>
<rect x="244" y="296" width="2" height="3" fill="#fff"/>
<rect x="248" y="292" width="1" height="7" fill="#cc0033"/>
<rect x="247" y="294" width="3" height="2" fill="#cc0033"/>
<rect x="251" y="294" width="1" height="7" fill="#cc0033"/>
<rect x="250" y="295" width="4" height="5" fill="#cc0033"/>
<rect x="255" y="281" width="1" height="1" fill="#000"/>
<rect x="255" y="299" width="1" height="6" fill="#000"/>
<rect x="254" y="282" width="3" height="17" fill="#000"/>
<rect x="255" y="283" width="1" height="15" fill="#fff"/>
<rect x="258" y="274" width="1" height="1" fill="#000"/>
<rect x="258" y="282" width="1" height="4" fill="#000"/>
<rect x="257" y="275" width="4" height="7" fill="#000"/>
<rect x="258" y="276" width="2" height="5" fill="#fff"/>
<rect x="262" y="270" width="1" height="13" fill="#cc0033"/>
<rect x="261" y="275" width="3" height="5" fill="#cc0033"/>
<rect x="266" y="274" width="1" height="4" fill="#000"/>
<rect x="266" y="281" width="1" height="5" fill="#000"/>
<rect x="264" y="278" width="4" height="3" fill="#000"/>
<rect x="265" y="279" width="2" height="1" fill="#fff"/>
<rect x="269" y="268" width="1" height="5" fill="#000"/>
<rect x="269" y="278" width="1" height="0" fill="#000"/>
<rect x="268" y="273" width="3" height="5" fill="#000"/>
<rect x="269" y="274" width="1" height="3" fill="#fff"/>
<rect x="273" y="272" width="1" height="8" fill="#cc0033"/>
<rect x="271" y="273" width="4" height="5" fill="#cc0033"/>
<rect x="276" y="276" width="1" height="17" fill="#cc0033"/>
<rect x="275" y="276" width="3" height="15" fill="#cc0033"/>
<rect x="280" y="281" width="1" height="8" fill="#000"/>
<rect x="280" y="292" width="1" height="1" fill="#000"/>
<rect x="278" y="289" width="4" height="3" fill="#000"/>
<rect x="279" y="290" width="2" height="1" fill="#fff"/>
<rect x="283" y="283" width="1" height="0" fill="#000"/>
<rect x="283" y="289" width="1" height="3" fill="#000"/>
<rect x="282" y="283" width="4" height="6" fill="#000"/>
<rect x="283" y="284" width="2" height="4" fill="#fff"/>
<rect x="287" y="279" width="1" height="10" fill="#cc0033"/>
<rect x="286" y="283" width="3" height="5" fill="#cc0033"/>
<rect x="290" y="277" width="1" height="2" fill="#000"/>
<rect x="290" y="289" width="1" height="2" fill="#000"/>
<rect x="289" y="279" width="4" height="10" fill="#000"/>
<rect x="290" y="280" width="2" height="8" fill="#fff"/>
<rect x="294" y="278" width="1" height="15" fill="#cc0033"/>
<rect x="293" y="279" width="3" height="13" fill="#cc0033"/>
<rect x="297" y="284" width="1" height="12" fill="#000"/>
<rect x="296" y="290" width="4" height="2" fill="#000"/>
<rect x="301" y="283" width="1" height="9" fill="#cc0033"/>
<rect x="300" y="290" width="3" height="2" fill="#cc0033"/>
<rect x="304" y="281" width="1" height="1" fill="#000"/>
<rect x="304" y="291" width="1" height="4" fill="#000"/>
<rect x="303" y="282" width="4" height="9" fill="#000"/>
<rect x="304" y="283" width="2" height="7" fill="#fff"/>
<rect x="308" y="279" width="1" height="1" fill="#000"/>
<rect x="308" y="290" width="1" height="1" fill="#000"/>
<rect x="307" y="280" width="3" height="10" fill="#000"/>
<rect x="308" y="281" width="1" height="8" fill="#fff"/>
<rect x="312" y="269" width="1" height="4" fill="#000"/>
<rect x="312" y="281" width="1" height="3" fill="#000"/>
<rect x="310" y="273" width="4" height="8" fill="#000"/>
<rect x="311" y="274" width="2" height="6" fill="#fff"/>
<rect x="315" y="269" width="1" height="15" fill="#cc0033"/>
<rect x="314" y="274" width="3" height="6" fill="#cc0033"/>
<rect x="319" y="274" width="1" height="4" fill="#000"/>
<rect x="319" y="281" width="1" height="2" fill="#000"/>
<rect x="317" y="278" width="4" height="3" fill="#000"/>
<rect x="318" y="279" width="2" height="1" fill="#fff"/>
<rect x="322" y="274" width="1" height="7" fill="#cc0033"/>
<rect x="321" y="278" width="3" height="2" fill="#cc0033"/>
<rect x="326" y="278" width="1" height="16" fill="#cc0033"/>
<rect x="324" y="279" width="4" height="14" fill="#cc0033"/>
<rect x="329" y="286" width="1" height="3" fill="#000"/>
<rect x="329" y="292" width="1" height="2" fill="#000"/>
<rect x="328" y="289" width="4" height="3" fill="#000"/>
<rect x="329" y="290" width="2" height="1" fill="#fff"/>
<rect x="333" y="282" width="1" height="8" fill="#cc0033"/>
<rect x="332" y="288" width="3" height="2" fill="#cc0033"/>
<rect x="336" y="282" width="1" height="4" fill="#000"/>
<rect x="336" y="289" width="1" height="1" fill="#000"/>
<rect x="335" y="286" width="4" height="3" fill="#000"/>
<rect x="336" y="287" width="2" height="1" fill="#fff"/>
<rect x="340" y="280" width="1" height="1" fill="#000"/>
<rect x="340" y="286" width="1" height="4" fill="#000"/>
<rect x="339" y="281" width="3" height="5" fill="#000"/>
<rect x="340" y="282" width="1" height="3" fill="#fff"/>
<rect x="343" y="278" width="1" height="7" fill="#cc0033"/>
<rect x="342" y="281" width="4" height="3" fill="#cc0033"/>
<rect x="347" y="281" width="1" height="12" fill="#cc0033"/>
<rect x="346" y="284" width="3" height="2" fill="#cc0033"/>
<rect x="350" y="284" width="1" height="6" fill="#cc0033"/>
<rect x="349" y="285" width="4" height="2" fill="#cc0033"/>
<rect x="354" y="287" width="1" height="10" fill="#cc0033"/>
<rect x="353" y="288" width="3" height="9" fill="#cc0033"/>
<rect x="358" y="286" width="1" height="1" fill="#000"/>
<rect x="358" y="295" width="1" height="7" fill="#000"/>
<rect x="356" y="287" width="4" height="8" fill="#000"/>
<rect x="357" y="288" width="2" height="6" fill="#fff"/>
<rect x="361" y="284" width="1" height="1" fill="#000"/>
<rect x="361" y="288" width="1" height="1" fill="#000"/>
<rect x="360" y="285" width="3" height="3" fill="#000"/>
<rect x="361" y="286" width="1" height="1" fill="#fff"/>
<rect x="365" y="280" width="1" height="1" fill="#000"/>
<rect x="365" y="288" width="1" height="4" fill="#000"/>
<rect x="363" y="281" width="4" height="7" fill="#000"/>
<rect x="364" y="282" width="2" height="5" fill="#fff"/>
<rect x="368" y="273" width="1" height="7" fill="#000"/>
<rect x="368" y="283" width="1" height="0" fill="#000"/>
<rect x="367" y="280" width="3" height="3" fill="#000"/>
<rect x="368" y="281" width="1" height="1" fill="#fff"/>
<rect x="372" y="269" width="1" height="5" fill="#000"/>
<rect x="372" y="280" width="1" height="2" fill="#000"/>
<rect x="370" y="274" width="4" height="6" fill="#000"/>
<rect x="371" y="275" width="2" height="4" fill="#fff"/>
<rect x="375" y="265" width="1" height="1" fill="#000"/>
<rect x="375" y="278" width="1" height="2" fill="#000"/>
<rect x="374" y="266" width="4" height="12" fill="#000"/>
<rect x="375" y="267" width="2" height="10" fill="#fff"/>
<rect x="379" y="260" width="1" height="3" fill="#000"/>
<rect x="379" y="266" width="1" height="4" fill="#000"/>
<rect x="378" y="263" width="3" height="3" fill="#000"/>
<rect x="379" y="264" width="1" height="1" fill="#fff"/>
<rect x="382" y="261" width="1" height="13" fill="#cc0033"/>
<rect x="381" y="263" width="4" height="6" fill="#cc0033"/>
<rect x="386" y="260" width="1" height="4" fill="#000"/>
<rect x="386" y="268" width="1" height="2" fill="#000"/>
<rect x="385" y="264" width="3" height="4" fill="#000"/>
<rect x="386" y="265" width="1" height="2" fill="#fff"/>
<rect x="389" y="263" width="1" height="15" fill="#cc0033"/>
<rect x="388" y="263" width="4" height="9" fill="#cc0033"/>
<rect x="393" y="264" width="1" height="2" fill="#000"/>
<rect x="393" y="272" width="1" height="3" fill="#000"/>
<rect x="392" y="266" width="3" height="6" fill="#000"/>
<rect x="393" y="267" width="1" height="4" fill="#fff"/>
<rect x="396" y="252" width="1" height="3" fill="#000"/>
<rect x="396" y="265" width="1" height="3" fill="#000"/>
<rect x="395" y="255" width="4" height="10" fill="#000"/>
<rect x="396" y="256" width="2" height="8" fill="#fff"/>
<rect x="400" y="250" width="1" height="0" fill="#000"/>
<rect x="400" y="255" width="1" height="2" fill="#000"/>
<rect x="399" y="250" width="3" height="5" fill="#000"/>
<rect x="400" y="251" width="1" height="3" fill="#fff"/>
<rect x="404" y="238" width="1" height="3" fill="#000"/>
<rect x="404" y="252" width="1" height="1" fill="#000"/>
<rect x="402" y="241" width="4" height="11" fill="#000"/>
<rect x="403" y="242" width="2" height="9" fill="#fff"/>
<rect x="407" y="225" width="1" height="1" fill="#000"/>
<rect x="407" y="240" width="1" height="1" fill="#000"/>
<rect x="406" y="226" width="3" height="14" fill="#000"/>
<rect x="407" y="227" width="1" height="12" fill="#fff"/>
<rect x="411" y="218" width="1" height="31" fill="#cc0033"/>
<rect x="409" y="226" width="4" height="16" fill="#cc0033"/>
<rect x="414" y="237" width="1" height="4" fill="#000"/>
<rect x="414" y="244" width="1" height="8" fill="#000"/>
<rect x="413" y="241" width="3" height="3" fill="#000"/>
<rect x="414" y="242" width="1" height="1" fill="#fff"/>
<rect x="418" y="228" width="1" height="4" fill="#000"/>
<rect x="418" y="239" width="1" height="1" fill="#000"/>
<rect x="416" y="232" width="4" height="7" fill="#000"/>
<rect x="417" y="233" width="2" height="5" fill="#fff"/>
<rect x="421" y="219" width="1" height="3" fill="#000"/>
<rect x="421" y="232" width="1" height="5" fill="#000"/>
<rect x="420" y="222" width="4" height="10" fill="#000"/>
<rect x="421" y="223" width="2" height="8" fill="#fff"/>
<rect x="425" y="218" width="1" height="16" fill="#cc0033"/>
<rect x="424" y="222" width="3" height="2" fill="#cc0033"/>
<rect x="428" y="217" width="1" height="18" fill="#cc0033"/>
<rect x="427" y="218" width="4" height="13" fill="#cc0033"/>
<rect x="432" y="202" width="1" height="8" fill="#000"/>
<rect x="432" y="231" width="1" height="2" fill="#000"/>
<rect x="431" y="210" width="3" height="21" fill="#000"/>
<rect x="432" y="211" width="1" height="19" fill="#fff"/>
<rect x="435" y="198" width="1" height="6" fill="#000"/>
<rect x="435" y="209" width="1" height="1" fill="#000"/>
<rect x="434" y="204" width="4" height="5" fill="#000"/>
<rect x="435" y="205" width="2" height="3" fill="#fff"/>
<rect x="439" y="200" width="1" height="19" fill="#cc0033"/>
<rect x="438" y="204" width="3" height="12" fill="#cc0033"/>
<rect x="442" y="210" width="1" height="16" fill="#000"/>
<rect x="441" y="213" width="4" height="2" fill="#000"/>
<rect x="446" y="202" width="1" height="0" fill="#000"/>
<rect x="446" y="210" width="1" height="4" fill="#000"/>
<rect x="445" y="202" width="3" height="8" fill="#000"/>
<rect x="446" y="203" width="1" height="6" fill="#fff"/>
<rect x="450" y="186" width="1" height="3" fill="#000"/>
<rect x="450" y="203" width="1" height="7" fill="#000"/>
<rect x="448" y="189" width="4" height="14" fill="#000"/>
<rect x="449" y="190" width="2" height="12" fill="#fff"/>
<rect x="453" y="187" width="1" height="19" fill="#cc0033"/>
<rect x="452" y="189" width="3" height="9" fill="#cc0033"/>
<rect x="457" y="182" width="1" height="3" fill="#000"/>
<rect x="457" y="198" width="1" height="1" fill="#000"/>
<rect x="455" y="185" width="4" height="13" fill="#000"/>
<rect x="456" y="186" width="2" height="11" fill="#fff"/>
<rect x="460" y="172" width="1" height="1" fill="#000"/>
<rect x="460" y="186" width="1" height="6" fill="#000"/>
<rect x="459" y="173" width="3" height="13" fill="#000"/>
<rect x="460" y="174" width="1" height="11" fill="#fff"/>
<rect x="464" y="136" width="1" height="14" fill="#000"/>
<rect x="464" y="173" width="1" height="0" fill="#000"/>
<rect x="462" y="150" width="4" height="23" fill="#000"/>
<rect x="463" y="151" width="2" height="21" fill="#fff"/>
<rect x="467" y="128" width="1" height="4" fill="#000"/>
<rect x="467" y="150" width="1" height="1" fill="#000"/>
<rect x="466" y="132" width="3" height="18" fill="#000"/>
<rect x="467" y="133" width="1" height="16" fill="#fff"/>
<rect x="471" y="103" width="1" height="4" fill="#000"/>
<rect x="471" y="132" width="1" height="0" fill="#000"/>
<rect x="469" y="107" width="4" height="25" fill="#000"/>
<rect x="470" y="108" width="2" height="23" fill="#fff"/>
<rect x="474" y="50" width="1" height="52" fill="#000"/>
<rect x="474" y="105" width="1" height="41" fill="#000"/>
<rect x="473" y="102" width="4" height="3" fill="#000"/>
<rect x="474" y="103" width="2" height="1" fill="#fff"/>
<rect x="478" y="75" width="1" height="6" fill="#000"/>
<rect x="478" y="104" width="1" height="37" fill="#000"/>
<rect x="477" y="81" width="3" height="23" fill="#000"/>
<rect x="478" y="82" width="1" height="21" fill="#fff"/>
<rect x="481" y="56" width="1" height="17" fill="#000"/>
<rect x="481" y="81" width="1" height="15" fill="#000"/>
<rect x="480" y="73" width="4" height="8" fill="#000"/>
<rect x="481" y="74" width="2" height="6" fill="#fff"/>
<rect x="485" y="37" width="1" height="24" fill="#000"/>
<rect x="485" y="72" width="1" height="18" fill="#000"/>
<rect x="484" y="61" width="3" height="11" fill="#000"/>
<rect x="485" y="62" width="1" height="9" fill="#fff"/>
<rect x="488" y="57" width="1" height="74" fill="#cc0033"/>
<rect x="487" y="60" width="4" height="57" fill="#cc0033"/>
<rect x="492" y="96" width="1" height="16" fill="#000"/>
<rect x="492" y="116" width="1" height="20" fill="#000"/>
<rect x="491" y="112" width="3" height="4" fill="#000"/>
<rect x="492" y="113" width="1" height="2" fill="#fff"/>
<rect x="496" y="91" width="1" height="55" fill="#cc0033"/>
<rect x="494" y="109" width="4" height="21" fill="#cc0033"/>
<rect x="499" y="119" width="1" height="46" fill="#cc0033"/>
<rect x="498" y="129" width="3" height="33" fill="#cc0033"/>
<rect x="503" y="155" width="1" height="57" fill="#cc0033"/>
<rect x="501" y="160" width="4" height="28" fill="#cc0033"/>
<rect x="506" y="174" width="1" height="12" fill="#000"/>
<rect x="506" y="189" width="1" height="13" fill="#000"/>
<rect x="505" y="186" width="3" height="3" fill="#000"/>
<rect x="506" y="187" width="1" height="1" fill="#fff"/>
<rect x="510" y="160" width="1" height="3" fill="#000"/>
<rect x="510" y="184" width="1" height="9" fill="#000"/>
<rect x="508" y="163" width="4" height="21" fill="#000"/>
<rect x="509" y="164" width="2" height="19" fill="#fff"/>
<rect x="513" y="145" width="1" height="10" fill="#000"/>
<rect x="513" y="165" width="1" height="1" fill="#000"/>
<rect x="512" y="155" width="3" height="10" fill="#000"/>
<rect x="513" y="156" width="1" height="8" fill="#fff"/>
<rect x="517" y="140" width="1" height="10" fill="#000"/>
<rect x="517" y="153" width="1" height="14" fill="#000"/>
<rect x="515" y="150" width="4" height="3" fill="#000"/>
<rect x="516" y="151" width="2" height="1" fill="#fff"/>
<rect x="520" y="141" width="1" height="41" fill="#cc0033"/>
<rect x="519" y="149" width="4" height="21" fill="#cc0033"/>
<rect x="524" y="150" width="1" height="4" fill="#000"/>
<rect x="524" y="170" width="1" height="5" fill="#000"/>
<rect x="523" y="154" width="3" height="16" fill="#000"/>
<rect x="524" y="155" width="1" height="14" fill="#fff"/>
<rect x="527" y="116" width="1" height="6" fill="#000"/>
<rect x="527" y="153" width="1" height="5" fill="#000"/>
<rect x="526" y="122" width="4" height="31" fill="#000"/>
<rect x="527" y="123" width="2" height="29" fill="#fff"/>
<rect x="531" y="113" width="1" height="29" fill="#cc0033"/>
<rect x="530" y="122" width="3" height="16" fill="#cc0033"/>
<rect x="534" y="121" width="1" height="11" fill="#000"/>
<rect x="534" y="138" width="1" height="4" fill="#000"/>
<rect x="533" y="132" width="4" height="6" fill="#000"/>
<rect x="534" y="133" width="2" height="4" fill="#fff"/>
<rect x="538" y="113" width="1" height="9" fill="#000"/>
<rect x="538" y="131" width="1" height="3" fill="#000"/>
<rect x="537" y="122" width="3" height="9" fill="#000"/>
<rect x="538" y="123" width="1" height="7" fill="#fff"/>
<rect x="542" y="104" width="1" height="1" fill="#000"/>
<rect x="542" y="121" width="1" height="18" fill="#000"/>
<rect x="540" y="105" width="4" height="16" fill="#000"/>
<rect x="541" y="106" width="2" height="14" fill="#fff"/>
<rect x="545" y="96" width="1" height="38" fill="#cc0033"/>
<rect x="544" y="104" width="3" height="26" fill="#cc0033"/>
<rect x="549" y="131" width="1" height="50" fill="#cc0033"/>
<rect x="547" y="133" width="4" height="39" fill="#cc0033"/>
<rect x="552" y="153" width="1" height="7" fill="#000"/>
<rect x="552" y="172" width="1" height="4" fill="#000"/>
<rect x="551" y="160" width="3" height="12" fill="#000"/>
<rect x="552" y="161" width="1" height="10" fill="#fff"/>
<rect x="556" y="141" width="1" height="11" fill="#000"/>
<rect x="556" y="160" width="1" height="3" fill="#000"/>
<rect x="554" y="152" width="4" height="8" fill="#000"/>
<rect x="555" y="153" width="2" height="6" fill="#fff"/>
<rect x="559" y="139" width="1" height="38" fill="#cc0033"/>
<rect x="558" y="148" width="3" height="11" fill="#cc0033"/>
<rect x="563" y="143" width="1" height="1" fill="#000"/>
<rect x="563" y="159" width="1" height="3" fill="#000"/>
<rect x="561" y="144" width="4" height="15" fill="#000"/>
<rect x="562" y="145" width="2" height="13" fill="#fff"/>
<rect x="566" y="129" width="1" height="6" fill="#000"/>
<rect x="566" y="145" width="1" height="4" fill="#000"/>
<rect x="565" y="135" width="4" height="10" fill="#000"/>
<rect x="566" y="136" width="2" height="8" fill="#fff"/>
<rect x="570" y="126" width="1" height="1" fill="#000"/>
<rect x="570" y="135" width="1" height="19" fill="#000"/>
<rect x="569" y="127" width="3" height="8" fill="#000"/>
<rect x="570" y="128" width="1" height="6" fill="#fff"/>
</g>
<line x1="92.3" y1="244.0" x2="620" y2="242.93" stroke="#000" stroke-width="2" stroke-linecap="butt" shape-rendering="crispEdges"/>
<line x1="115.5" y1="336" x2="620" y2="262.5" stroke="#000" stroke-width="2.1" stroke-linecap="butt" shape-rendering="crispEdges"/>
<line x1="358" y1="301.5" x2="620" y2="141.9" stroke="#000" stroke-width="2.3" stroke-linecap="butt" shape-rendering="crispEdges"/>
<line x1="484.7" y1="36.6" x2="614.5" y2="160.4" stroke="#000" stroke-width="2.5" stroke-linecap="butt" shape-rendering="crispEdges"/>
<line x1="546" y1="95.5" x2="620" y2="95.5" stroke="#000" stroke-width="2" stroke-linecap="butt" shape-rendering="crispEdges"/>
<line x1="546.2" y1="181" x2="608" y2="181" stroke="#000" stroke-width="2" stroke-linecap="butt" shape-rendering="crispEdges"/>
<circle cx="535" cy="300" r="1.1" fill="#000"/>
<g shape-rendering="crispEdges">
<rect x="17" y="462" width="4" height="1" fill="#2b6199"/>
<rect x="20" y="461" width="5" height="2" fill="#2b6199"/>
<rect x="21" y="462" width="3" height="1" fill="#5aa7d5"/>
<rect x="24" y="461" width="4" height="2" fill="#2b6199"/>
<rect x="25" y="462" width="2" height="1" fill="#5aa7d5"/>
<rect x="27" y="461" width="5" height="2" fill="#2b6199"/>
<rect x="28" y="462" width="3" height="1" fill="#5aa7d5"/>
<rect x="31" y="460" width="4" height="3" fill="#2b6199"/>
<rect x="32" y="461" width="2" height="2" fill="#5aa7d5"/>
<rect x="34" y="460" width="5" height="3" fill="#2b6199"/>
<rect x="35" y="461" width="3" height="2" fill="#5aa7d5"/>
<rect x="38" y="459" width="4" height="4" fill="#2b6199"/>
<rect x="39" y="460" width="2" height="3" fill="#5aa7d5"/>
<rect x="41" y="458" width="5" height="5" fill="#2b6199"/>
<rect x="42" y="459" width="3" height="4" fill="#5aa7d5"/>
<rect x="45" y="458" width="4" height="5" fill="#2b6199"/>
<rect x="46" y="459" width="2" height="4" fill="#5aa7d5"/>
<rect x="48" y="457" width="5" height="6" fill="#2b6199"/>
<rect x="49" y="458" width="3" height="5" fill="#5aa7d5"/>
<rect x="52" y="456" width="5" height="7" fill="#2b6199"/>
<rect x="53" y="457" width="3" height="6" fill="#5aa7d5"/>
<rect x="56" y="456" width="4" height="7" fill="#2b6199"/>
<rect x="57" y="457" width="2" height="6" fill="#5aa7d5"/>
<rect x="59" y="456" width="5" height="7" fill="#2b6199"/>
<rect x="60" y="457" width="3" height="6" fill="#5aa7d5"/>
<rect x="63" y="456" width="4" height="7" fill="#2b6199"/>
<rect x="64" y="457" width="2" height="6" fill="#5aa7d5"/>
<rect x="66" y="457" width="5" height="6" fill="#2b6199"/>
<rect x="67" y="458" width="3" height="5" fill="#5aa7d5"/>
<rect x="70" y="457" width="4" height="6" fill="#2b6199"/>
<rect x="71" y="458" width="2" height="5" fill="#5aa7d5"/>
<rect x="73" y="457" width="5" height="6" fill="#2b6199"/>
<rect x="74" y="458" width="3" height="5" fill="#5aa7d5"/>
<rect x="77" y="457" width="4" height="6" fill="#2b6199"/>
<rect x="78" y="458" width="2" height="5" fill="#5aa7d5"/>
<rect x="80" y="457" width="5" height="6" fill="#2b6199"/>
<rect x="81" y="458" width="3" height="5" fill="#5aa7d5"/>
<rect x="84" y="456" width="4" height="7" fill="#2b6199"/>
<rect x="85" y="457" width="2" height="6" fill="#5aa7d5"/>
<rect x="87" y="456" width="5" height="7" fill="#2b6199"/>
<rect x="88" y="457" width="3" height="6" fill="#5aa7d5"/>
<rect x="91" y="455" width="4" height="8" fill="#2b6199"/>
<rect x="92" y="456" width="2" height="7" fill="#5aa7d5"/>
<rect x="94" y="453" width="5" height="10" fill="#2b6199"/>
<rect x="95" y="454" width="3" height="9" fill="#5aa7d5"/>
<rect x="98" y="453" width="5" height="10" fill="#2b6199"/>
<rect x="99" y="454" width="3" height="9" fill="#5aa7d5"/>
<rect x="102" y="460" width="4" height="3" fill="#2b6199"/>
<rect x="103" y="461" width="2" height="2" fill="#5aa7d5"/>
<rect x="105" y="462" width="5" height="7" fill="#2b6199"/>
<rect x="106" y="462" width="3" height="6" fill="#5aa7d5"/>
<rect x="109" y="462" width="4" height="11" fill="#2b6199"/>
<rect x="110" y="462" width="2" height="10" fill="#5aa7d5"/>
<rect x="112" y="462" width="5" height="13" fill="#2b6199"/>
<rect x="113" y="462" width="3" height="12" fill="#5aa7d5"/>
<rect x="116" y="462" width="4" height="14" fill="#2b6199"/>
<rect x="117" y="462" width="2" height="13" fill="#5aa7d5"/>
<rect x="119" y="462" width="5" height="13" fill="#2b6199"/>
<rect x="120" y="462" width="3" height="12" fill="#5aa7d5"/>
<rect x="123" y="462" width="4" height="12" fill="#2b6199"/>
<rect x="124" y="462" width="2" height="11" fill="#5aa7d5"/>
<rect x="126" y="462" width="5" height="11" fill="#2b6199"/>
<rect x="127" y="462" width="3" height="10" fill="#5aa7d5"/>
<rect x="130" y="462" width="4" height="11" fill="#2b6199"/>
<rect x="131" y="462" width="2" height="10" fill="#5aa7d5"/>
<rect x="133" y="462" width="5" height="10" fill="#2b6199"/>
<rect x="134" y="462" width="3" height="9" fill="#5aa7d5"/>
<rect x="137" y="462" width="4" height="8" fill="#2b6199"/>
<rect x="138" y="462" width="2" height="7" fill="#5aa7d5"/>
<rect x="140" y="462" width="5" height="6" fill="#2b6199"/>
<rect x="141" y="462" width="3" height="5" fill="#5aa7d5"/>
<rect x="144" y="462" width="5" height="5" fill="#2b6199"/>
<rect x="145" y="462" width="3" height="4" fill="#5aa7d5"/>
<rect x="148" y="462" width="4" height="2" fill="#2b6199"/>
<rect x="149" y="462" width="2" height="1" fill="#5aa7d5"/>
<rect x="151" y="461" width="5" height="2" fill="#2b6199"/>
<rect x="152" y="462" width="3" height="1" fill="#5aa7d5"/>
<rect x="155" y="460" width="4" height="3" fill="#2b6199"/>
<rect x="156" y="461" width="2" height="2" fill="#5aa7d5"/>
<rect x="158" y="460" width="5" height="3" fill="#2b6199"/>
<rect x="159" y="461" width="3" height="2" fill="#5aa7d5"/>
<rect x="162" y="460" width="4" height="3" fill="#2b6199"/>
<rect x="163" y="461" width="2" height="2" fill="#5aa7d5"/>
<rect x="165" y="459" width="5" height="4" fill="#2b6199"/>
<rect x="166" y="460" width="3" height="3" fill="#5aa7d5"/>
<rect x="169" y="459" width="4" height="4" fill="#2b6199"/>
<rect x="170" y="460" width="2" height="3" fill="#5aa7d5"/>
<rect x="172" y="460" width="5" height="3" fill="#2b6199"/>
<rect x="173" y="461" width="3" height="2" fill="#5aa7d5"/>
<rect x="176" y="461" width="4" height="2" fill="#2b6199"/>
<rect x="177" y="462" width="2" height="1" fill="#5aa7d5"/>
<rect x="179" y="462" width="5" height="2" fill="#2b6199"/>
<rect x="180" y="462" width="3" height="1" fill="#5aa7d5"/>
<rect x="183" y="462" width="4" height="2" fill="#2b6199"/>
<rect x="184" y="462" width="2" height="1" fill="#5aa7d5"/>
<rect x="186" y="461" width="5" height="2" fill="#2b6199"/>
<rect x="187" y="462" width="3" height="1" fill="#5aa7d5"/>
<rect x="190" y="459" width="5" height="4" fill="#2b6199"/>
<rect x="191" y="460" width="3" height="3" fill="#5aa7d5"/>
<rect x="194" y="458" width="4" height="5" fill="#2b6199"/>
<rect x="195" y="459" width="2" height="4" fill="#5aa7d5"/>
<rect x="197" y="458" width="5" height="5" fill="#2b6199"/>
<rect x="198" y="459" width="3" height="4" fill="#5aa7d5"/>
<rect x="201" y="457" width="4" height="6" fill="#2b6199"/>
<rect x="202" y="458" width="2" height="5" fill="#5aa7d5"/>
<rect x="204" y="457" width="5" height="6" fill="#2b6199"/>
<rect x="205" y="458" width="3" height="5" fill="#5aa7d5"/>
<rect x="208" y="457" width="4" height="6" fill="#2b6199"/>
<rect x="209" y="458" width="2" height="5" fill="#5aa7d5"/>
<rect x="211" y="456" width="5" height="7" fill="#2b6199"/>
<rect x="212" y="457" width="3" height="6" fill="#5aa7d5"/>
<rect x="215" y="456" width="4" height="7" fill="#2b6199"/>
<rect x="216" y="457" width="2" height="6" fill="#5aa7d5"/>
<rect x="218" y="456" width="5" height="7" fill="#2b6199"/>
<rect x="219" y="457" width="3" height="6" fill="#5aa7d5"/>
<rect x="222" y="460" width="4" height="3" fill="#2b6199"/>
<rect x="223" y="461" width="2" height="2" fill="#5aa7d5"/>
<rect x="225" y="462" width="5" height="4" fill="#2b6199"/>
<rect x="226" y="462" width="3" height="3" fill="#5aa7d5"/>
<rect x="229" y="462" width="4" height="5" fill="#2b6199"/>
<rect x="230" y="462" width="2" height="4" fill="#5aa7d5"/>
<rect x="232" y="462" width="5" height="6" fill="#2b6199"/>
<rect x="233" y="462" width="3" height="5" fill="#5aa7d5"/>
<rect x="236" y="462" width="5" height="7" fill="#2b6199"/>
<rect x="237" y="462" width="3" height="6" fill="#5aa7d5"/>
<rect x="240" y="462" width="4" height="7" fill="#2b6199"/>
<rect x="241" y="462" width="2" height="6" fill="#5aa7d5"/>
<rect x="243" y="462" width="5" height="7" fill="#2b6199"/>
<rect x="244" y="462" width="3" height="6" fill="#5aa7d5"/>
<rect x="247" y="462" width="4" height="6" fill="#2b6199"/>
<rect x="248" y="462" width="2" height="5" fill="#5aa7d5"/>
<rect x="250" y="462" width="5" height="5" fill="#2b6199"/>
<rect x="251" y="462" width="3" height="4" fill="#5aa7d5"/>
<rect x="254" y="462" width="4" height="3" fill="#2b6199"/>
<rect x="255" y="462" width="2" height="2" fill="#5aa7d5"/>
<rect x="257" y="461" width="5" height="2" fill="#2b6199"/>
<rect x="258" y="462" width="3" height="1" fill="#5aa7d5"/>
<rect x="261" y="460" width="4" height="3" fill="#2b6199"/>
<rect x="262" y="461" width="2" height="2" fill="#5aa7d5"/>
<rect x="264" y="460" width="5" height="3" fill="#2b6199"/>
<rect x="265" y="461" width="3" height="2" fill="#5aa7d5"/>
<rect x="268" y="460" width="4" height="3" fill="#2b6199"/>
<rect x="269" y="461" width="2" height="2" fill="#5aa7d5"/>
<rect x="271" y="460" width="5" height="3" fill="#2b6199"/>
<rect x="272" y="461" width="3" height="2" fill="#5aa7d5"/>
<rect x="275" y="460" width="4" height="3" fill="#2b6199"/>
<rect x="276" y="461" width="2" height="2" fill="#5aa7d5"/>
<rect x="278" y="462" width="5" height="1" fill="#2b6199"/>
<rect x="282" y="462" width="5" height="2" fill="#2b6199"/>
<rect x="283" y="462" width="3" height="1" fill="#5aa7d5"/>
<rect x="286" y="462" width="4" height="2" fill="#2b6199"/>
<rect x="287" y="462" width="2" height="1" fill="#5aa7d5"/>
<rect x="289" y="462" width="5" height="2" fill="#2b6199"/>
<rect x="290" y="462" width="3" height="1" fill="#5aa7d5"/>
<rect x="293" y="462" width="4" height="3" fill="#2b6199"/>
<rect x="294" y="462" width="2" height="2" fill="#5aa7d5"/>
<rect x="296" y="462" width="5" height="3" fill="#2b6199"/>
<rect x="297" y="462" width="3" height="2" fill="#5aa7d5"/>
<rect x="300" y="462" width="4" height="3" fill="#2b6199"/>
<rect x="301" y="462" width="2" height="2" fill="#5aa7d5"/>
<rect x="303" y="462" width="5" height="3" fill="#2b6199"/>
<rect x="304" y="462" width="3" height="2" fill="#5aa7d5"/>
<rect x="307" y="462" width="4" height="2" fill="#2b6199"/>
<rect x="308" y="462" width="2" height="1" fill="#5aa7d5"/>
<rect x="310" y="462" width="5" height="1" fill="#2b6199"/>
<rect x="314" y="461" width="4" height="2" fill="#2b6199"/>
<rect x="315" y="462" width="2" height="1" fill="#5aa7d5"/>
<rect x="317" y="461" width="5" height="2" fill="#2b6199"/>
<rect x="318" y="462" width="3" height="1" fill="#5aa7d5"/>
<rect x="321" y="461" width="4" height="2" fill="#2b6199"/>
<rect x="322" y="462" width="2" height="1" fill="#5aa7d5"/>
<rect x="324" y="461" width="5" height="2" fill="#2b6199"/>
<rect x="325" y="462" width="3" height="1" fill="#5aa7d5"/>
<rect x="328" y="462" width="5" height="2" fill="#2b6199"/>
<rect x="329" y="462" width="3" height="1" fill="#5aa7d5"/>
<rect x="332" y="462" width="4" height="2" fill="#2b6199"/>
<rect x="333" y="462" width="2" height="1" fill="#5aa7d5"/>
<rect x="335" y="462" width="5" height="2" fill="#2b6199"/>
<rect x="336" y="462" width="3" height="1" fill="#5aa7d5"/>
<rect x="339" y="462" width="4" height="2" fill="#2b6199"/>
<rect x="340" y="462" width="2" height="1" fill="#5aa7d5"/>
<rect x="342" y="462" width="5" height="2" fill="#2b6199"/>
<rect x="343" y="462" width="3" height="1" fill="#5aa7d5"/>
<rect x="346" y="462" width="4" height="2" fill="#2b6199"/>
<rect x="347" y="462" width="2" height="1" fill="#5aa7d5"/>
<rect x="349" y="462" width="5" height="3" fill="#2b6199"/>
<rect x="350" y="462" width="3" height="2" fill="#5aa7d5"/>
<rect x="353" y="462" width="4" height="3" fill="#2b6199"/>
<rect x="354" y="462" width="2" height="2" fill="#5aa7d5"/>
<rect x="356" y="462" width="5" height="3" fill="#2b6199"/>
<rect x="357" y="462" width="3" height="2" fill="#5aa7d5"/>
<rect x="360" y="462" width="4" height="2" fill="#2b6199"/>
<rect x="361" y="462" width="2" height="1" fill="#5aa7d5"/>
<rect x="363" y="462" width="5" height="1" fill="#2b6199"/>
<rect x="367" y="462" width="4" height="1" fill="#2b6199"/>
<rect x="370" y="460" width="5" height="3" fill="#2b6199"/>
<rect x="371" y="461" width="3" height="2" fill="#5aa7d5"/>
<rect x="374" y="460" width="5" height="3" fill="#2b6199"/>
<rect x="375" y="461" width="3" height="2" fill="#5aa7d5"/>
<rect x="378" y="459" width="4" height="4" fill="#2b6199"/>
<rect x="379" y="460" width="2" height="3" fill="#5aa7d5"/>
<rect x="381" y="458" width="5" height="5" fill="#2b6199"/>
<rect x="382" y="459" width="3" height="4" fill="#5aa7d5"/>
<rect x="385" y="458" width="4" height="5" fill="#2b6199"/>
<rect x="386" y="459" width="2" height="4" fill="#5aa7d5"/>
<rect x="388" y="458" width="5" height="5" fill="#2b6199"/>
<rect x="389" y="459" width="3" height="4" fill="#5aa7d5"/>
<rect x="392" y="457" width="4" height="6" fill="#2b6199"/>
<rect x="393" y="458" width="2" height="5" fill="#5aa7d5"/>
<rect x="395" y="457" width="5" height="6" fill="#2b6199"/>
<rect x="396" y="458" width="3" height="5" fill="#5aa7d5"/>
<rect x="399" y="456" width="4" height="7" fill="#2b6199"/>
<rect x="400" y="457" width="2" height="6" fill="#5aa7d5"/>
<rect x="402" y="455" width="5" height="8" fill="#2b6199"/>
<rect x="403" y="456" width="3" height="7" fill="#5aa7d5"/>
<rect x="406" y="454" width="4" height="9" fill="#2b6199"/>
<rect x="407" y="455" width="2" height="8" fill="#5aa7d5"/>
<rect x="409" y="455" width="5" height="8" fill="#2b6199"/>
<rect x="410" y="456" width="3" height="7" fill="#5aa7d5"/>
<rect x="413" y="455" width="4" height="8" fill="#2b6199"/>
<rect x="414" y="456" width="2" height="7" fill="#5aa7d5"/>
<rect x="416" y="455" width="5" height="8" fill="#2b6199"/>
<rect x="417" y="456" width="3" height="7" fill="#5aa7d5"/>
<rect x="420" y="455" width="5" height="8" fill="#2b6199"/>
<rect x="421" y="456" width="3" height="7" fill="#5aa7d5"/>
<rect x="424" y="455" width="4" height="8" fill="#2b6199"/>
<rect x="425" y="456" width="2" height="7" fill="#5aa7d5"/>
<rect x="427" y="455" width="5" height="8" fill="#2b6199"/>
<rect x="428" y="456" width="3" height="7" fill="#5aa7d5"/>
<rect x="431" y="455" width="4" height="8" fill="#2b6199"/>
<rect x="432" y="456" width="2" height="7" fill="#5aa7d5"/>
<rect x="434" y="455" width="5" height="8" fill="#2b6199"/>
<rect x="435" y="456" width="3" height="7" fill="#5aa7d5"/>
<rect x="438" y="456" width="4" height="7" fill="#2b6199"/>
<rect x="439" y="457" width="2" height="6" fill="#5aa7d5"/>
<rect x="441" y="458" width="5" height="5" fill="#2b6199"/>
<rect x="442" y="459" width="3" height="4" fill="#5aa7d5"/>
<rect x="445" y="457" width="4" height="6" fill="#2b6199"/>
<rect x="446" y="458" width="2" height="5" fill="#5aa7d5"/>
<rect x="448" y="456" width="5" height="7" fill="#2b6199"/>
<rect x="449" y="457" width="3" height="6" fill="#5aa7d5"/>
<rect x="452" y="456" width="4" height="7" fill="#2b6199"/>
<rect x="453" y="457" width="2" height="6" fill="#5aa7d5"/>
<rect x="455" y="457" width="5" height="6" fill="#2b6199"/>
<rect x="456" y="458" width="3" height="5" fill="#5aa7d5"/>
<rect x="459" y="455" width="4" height="8" fill="#2b6199"/>
<rect x="460" y="456" width="2" height="7" fill="#5aa7d5"/>
<rect x="462" y="452" width="5" height="11" fill="#2b6199"/>
<rect x="463" y="453" width="3" height="10" fill="#5aa7d5"/>
<rect x="466" y="448" width="4" height="15" fill="#2b6199"/>
<rect x="467" y="449" width="2" height="14" fill="#5aa7d5"/>
<rect x="469" y="445" width="5" height="18" fill="#2b6199"/>
<rect x="470" y="446" width="3" height="17" fill="#5aa7d5"/>
<rect x="473" y="444" width="5" height="19" fill="#2b6199"/>
<rect x="474" y="445" width="3" height="18" fill="#5aa7d5"/>
<rect x="477" y="442" width="4" height="21" fill="#2b6199"/>
<rect x="478" y="443" width="2" height="20" fill="#5aa7d5"/>
<rect x="480" y="442" width="5" height="21" fill="#2b6199"/>
<rect x="481" y="443" width="3" height="20" fill="#5aa7d5"/>
<rect x="484" y="443" width="4" height="20" fill="#2b6199"/>
<rect x="485" y="444" width="2" height="19" fill="#5aa7d5"/>
<rect x="487" y="450" width="5" height="13" fill="#2b6199"/>
<rect x="488" y="451" width="3" height="12" fill="#5aa7d5"/>
<rect x="491" y="456" width="4" height="7" fill="#2b6199"/>
<rect x="492" y="457" width="2" height="6" fill="#5aa7d5"/>
<rect x="494" y="462" width="5" height="2" fill="#2b6199"/>
<rect x="495" y="462" width="3" height="1" fill="#5aa7d5"/>
<rect x="498" y="462" width="4" height="10" fill="#2b6199"/>
<rect x="499" y="462" width="2" height="9" fill="#5aa7d5"/>
<rect x="501" y="462" width="5" height="17" fill="#2b6199"/>
<rect x="502" y="462" width="3" height="16" fill="#5aa7d5"/>
<rect x="505" y="462" width="4" height="22" fill="#2b6199"/>
<rect x="506" y="462" width="2" height="21" fill="#5aa7d5"/>
<rect x="508" y="462" width="5" height="21" fill="#2b6199"/>
<rect x="509" y="462" width="3" height="20" fill="#5aa7d5"/>
<rect x="512" y="462" width="4" height="21" fill="#2b6199"/>
<rect x="513" y="462" width="2" height="20" fill="#5aa7d5"/>
<rect x="515" y="462" width="5" height="19" fill="#2b6199"/>
<rect x="516" y="462" width="3" height="18" fill="#5aa7d5"/>
<rect x="519" y="462" width="5" height="17" fill="#2b6199"/>
<rect x="520" y="462" width="3" height="16" fill="#5aa7d5"/>
<rect x="523" y="462" width="4" height="14" fill="#2b6199"/>
<rect x="524" y="462" width="2" height="13" fill="#5aa7d5"/>
<rect x="526" y="462" width="5" height="11" fill="#2b6199"/>
<rect x="527" y="462" width="3" height="10" fill="#5aa7d5"/>
<rect x="530" y="462" width="4" height="9" fill="#2b6199"/>
<rect x="531" y="462" width="2" height="8" fill="#5aa7d5"/>
<rect x="533" y="462" width="5" height="7" fill="#2b6199"/>
<rect x="534" y="462" width="3" height="6" fill="#5aa7d5"/>
<rect x="537" y="462" width="4" height="5" fill="#2b6199"/>
<rect x="538" y="462" width="2" height="4" fill="#5aa7d5"/>
<rect x="540" y="462" width="5" height="2" fill="#2b6199"/>
<rect x="541" y="462" width="3" height="1" fill="#5aa7d5"/>
<rect x="544" y="462" width="4" height="1" fill="#2b6199"/>
<rect x="547" y="462" width="5" height="4" fill="#2b6199"/>
<rect x="548" y="462" width="3" height="3" fill="#5aa7d5"/>
<rect x="551" y="462" width="4" height="8" fill="#2b6199"/>
<rect x="552" y="462" width="2" height="7" fill="#5aa7d5"/>
<rect x="554" y="462" width="5" height="9" fill="#2b6199"/>
<rect x="555" y="462" width="3" height="8" fill="#5aa7d5"/>
<rect x="558" y="462" width="4" height="9" fill="#2b6199"/>
<rect x="559" y="462" width="2" height="8" fill="#5aa7d5"/>
<rect x="561" y="462" width="5" height="9" fill="#2b6199"/>
<rect x="562" y="462" width="3" height="8" fill="#5aa7d5"/>
<rect x="565" y="462" width="5" height="7" fill="#2b6199"/>
<rect x="566" y="462" width="3" height="6" fill="#5aa7d5"/>
<rect x="569" y="462" width="4" height="5" fill="#2b6199"/>
<rect x="570" y="462" width="2" height="4" fill="#5aa7d5"/>
</g>
<path d="M16.5,457.0C18.8,456.8 26.1,456.5 30.0,456.0C33.9,455.5 36.7,454.8 40.0,454.0C43.3,453.2 46.7,452.2 50.0,451.0C53.3,449.8 56.7,448.2 60.0,447.0C63.3,445.8 66.7,445.0 70.0,444.0C73.3,443.0 76.7,442.2 80.0,441.0C83.3,439.8 87.2,438.2 90.0,437.0C92.8,435.8 94.8,434.7 97.0,434.0C99.2,433.3 101.1,432.6 102.9,432.6C104.7,432.6 106.0,432.9 108.0,434.0C110.0,435.1 112.7,437.0 115.0,439.0C117.3,441.0 119.5,443.7 122.0,446.0C124.5,448.3 127.3,451.0 130.0,453.0C132.7,455.0 135.5,456.8 138.0,458.0C140.5,459.2 142.7,459.7 145.0,460.0C147.3,460.3 149.5,460.2 152.0,460.0C154.5,459.8 157.0,459.4 160.0,459.0C163.0,458.6 166.7,457.8 170.0,457.5C173.3,457.2 176.7,457.5 180.0,457.5C183.3,457.5 186.7,458.1 190.0,457.5C193.3,456.9 196.7,455.1 200.0,454.0C203.3,452.9 206.7,452.0 210.0,451.0C213.3,450.0 217.7,448.7 220.0,448.0C222.3,447.3 222.0,446.6 224.0,446.8C226.0,447.0 229.3,448.0 232.0,449.0C234.7,450.0 237.3,451.8 240.0,453.0C242.7,454.2 245.3,455.6 248.0,456.5C250.7,457.4 253.3,458.2 256.0,458.5C258.7,458.8 261.3,458.3 264.0,458.0C266.7,457.7 269.3,456.8 272.0,456.5C274.7,456.2 277.0,456.4 280.0,456.5C283.0,456.6 286.7,456.6 290.0,457.0C293.3,457.4 297.0,458.6 300.0,459.0C303.0,459.4 304.7,459.6 308.0,459.5C311.3,459.4 316.3,458.6 320.0,458.5C323.7,458.4 326.7,458.8 330.0,459.0C333.3,459.2 336.7,459.7 340.0,460.0C343.3,460.3 346.7,460.7 350.0,461.0C353.3,461.3 357.0,461.9 360.0,462.0C363.0,462.1 365.3,461.8 368.0,461.5C370.7,461.2 373.3,460.6 376.0,460.0C378.7,459.4 381.3,458.8 384.0,458.0C386.7,457.2 389.3,456.4 392.0,455.5C394.7,454.6 397.3,453.6 400.0,452.5C402.7,451.4 405.3,450.2 408.0,449.0C410.7,447.8 413.3,446.2 416.0,445.0C418.7,443.8 421.3,442.6 424.0,441.5C426.7,440.4 429.3,439.4 432.0,438.5C434.7,437.6 437.3,436.8 440.0,436.0C442.7,435.2 445.3,434.3 448.0,433.5C450.7,432.7 453.7,432.1 456.0,431.2C458.3,430.3 460.3,429.1 462.0,428.0C463.7,426.9 464.7,426.0 466.0,424.5C467.3,423.0 468.5,420.9 470.0,419.0C471.5,417.1 473.3,415.2 475.0,413.0C476.7,410.8 478.3,408.0 480.0,406.0C481.7,404.0 483.3,402.4 485.0,401.0C486.7,399.6 488.6,398.3 490.0,397.5C491.4,396.7 492.2,396.1 493.5,396.0C494.8,395.9 496.6,396.2 498.0,397.0C499.4,397.8 500.7,399.5 502.0,401.0C503.3,402.5 504.7,404.2 506.0,406.0C507.3,407.8 508.7,409.6 510.0,411.5C511.3,413.4 512.7,415.7 514.0,417.5C515.3,419.3 516.7,420.9 518.0,422.5C519.3,424.1 520.7,425.7 522.0,427.0C523.3,428.3 524.7,429.4 526.0,430.5C527.3,431.6 528.5,432.7 530.0,433.5C531.5,434.3 533.3,435.0 535.0,435.5C536.7,436.0 538.3,436.2 540.0,436.5C541.7,436.8 543.3,436.7 545.0,437.0C546.7,437.3 548.3,437.8 550.0,438.5C551.7,439.2 553.3,440.4 555.0,441.5C556.7,442.6 558.3,444.0 560.0,445.0C561.7,446.0 563.2,446.9 565.0,447.5C566.8,448.1 569.6,448.4 570.5,448.6" fill="none" stroke="#f02020" stroke-width="1.2" stroke-linejoin="round" stroke-linecap="round"/>
<path d="M16.5,456.6C18.8,456.3 26.1,455.7 30.0,455.0C33.9,454.3 36.7,453.8 40.0,452.5C43.3,451.2 47.5,449.0 50.0,447.5C52.5,446.0 53.3,444.5 55.0,443.5C56.7,442.5 57.5,442.1 60.0,441.5C62.5,440.9 66.7,440.8 70.0,440.0C73.3,439.2 77.5,438.0 80.0,437.0C82.5,436.0 83.3,435.0 85.0,434.0C86.7,433.0 88.3,432.1 90.0,431.0C91.7,429.9 93.4,428.6 95.0,427.5C96.6,426.4 98.2,424.7 99.5,424.6C100.8,424.5 101.8,425.3 103.0,427.0C104.2,428.7 105.5,432.0 107.0,435.0C108.5,438.0 110.3,442.2 112.0,445.0C113.7,447.8 115.3,449.9 117.0,452.0C118.7,454.1 120.2,455.8 122.0,457.5C123.8,459.2 126.0,460.9 128.0,462.0C130.0,463.1 132.0,463.7 134.0,464.0C136.0,464.3 138.0,464.2 140.0,464.0C142.0,463.8 144.3,463.7 146.0,463.0C147.7,462.3 148.5,460.8 150.0,460.0C151.5,459.2 153.3,458.4 155.0,458.0C156.7,457.6 158.2,457.7 160.0,457.3C161.8,456.9 164.0,455.8 166.0,455.5C168.0,455.2 170.0,455.2 172.0,455.5C174.0,455.8 176.0,456.9 178.0,457.5C180.0,458.1 182.0,459.2 184.0,459.0C186.0,458.8 188.2,456.8 190.0,456.0C191.8,455.2 193.3,454.8 195.0,454.0C196.7,453.2 198.0,452.1 200.0,451.0C202.0,449.9 204.8,448.4 207.0,447.5C209.2,446.6 210.9,446.4 213.0,445.5C215.1,444.6 217.5,441.8 219.5,442.2C221.5,442.6 222.9,446.0 225.0,448.0C227.1,450.0 229.8,452.2 232.0,454.0C234.2,455.8 235.8,457.8 238.0,459.0C240.2,460.2 242.8,460.6 245.0,461.0C247.2,461.4 249.0,461.8 251.0,461.5C253.0,461.2 255.0,459.8 257.0,459.0C259.0,458.2 260.8,457.7 263.0,457.0C265.2,456.3 267.7,454.9 270.0,454.6C272.3,454.4 274.8,455.2 277.0,455.5C279.2,455.8 280.8,456.2 283.0,456.5C285.2,456.8 287.7,456.6 290.0,457.0C292.3,457.4 294.7,458.3 297.0,459.0C299.3,459.7 301.8,461.1 304.0,461.2C306.2,461.2 308.0,459.8 310.0,459.3C312.0,458.8 314.2,458.3 316.0,458.0C317.8,457.7 319.2,457.1 321.0,457.3C322.8,457.5 325.0,458.5 327.0,459.0C329.0,459.5 330.8,460.2 333.0,460.5C335.2,460.8 337.7,460.4 340.0,460.5C342.3,460.6 345.0,460.6 347.0,461.0C349.0,461.4 350.3,462.6 352.0,463.0C353.7,463.4 355.3,463.5 357.0,463.5C358.7,463.5 360.3,463.2 362.0,463.0C363.7,462.8 365.3,462.6 367.0,462.0C368.7,461.4 370.2,460.4 372.0,459.5C373.8,458.6 376.0,457.3 378.0,456.5C380.0,455.7 382.0,455.1 384.0,454.5C386.0,453.9 388.0,453.7 390.0,453.0C392.0,452.3 394.0,451.3 396.0,450.5C398.0,449.7 400.0,449.4 402.0,448.0C404.0,446.6 406.0,443.6 408.0,442.3C410.0,441.1 412.2,441.1 414.0,440.5C415.8,439.9 417.2,439.8 419.0,439.0C420.8,438.2 423.5,436.1 425.0,435.6C426.5,435.1 426.8,436.4 428.0,436.0C429.2,435.6 430.7,434.2 432.0,433.5C433.3,432.8 434.5,431.8 436.0,431.5C437.5,431.2 439.5,431.8 441.0,431.5C442.5,431.2 443.5,430.7 445.0,430.0C446.5,429.3 448.0,428.1 450.0,427.5C452.0,426.9 455.2,427.0 457.0,426.1C458.8,425.2 459.7,423.7 461.0,422.0C462.3,420.3 463.5,418.4 465.0,416.0C466.5,413.6 468.3,410.5 470.0,407.5C471.7,404.5 473.3,401.0 475.0,398.0C476.7,395.0 478.5,392.0 480.0,389.5C481.5,387.0 482.9,384.5 484.0,383.0C485.1,381.5 485.6,380.3 486.6,380.5C487.6,380.7 488.8,382.4 490.0,384.0C491.2,385.6 492.8,387.9 494.0,390.0C495.2,392.1 496.0,393.7 497.0,396.5C498.0,399.3 499.0,403.4 500.0,407.0C501.0,410.6 501.9,414.6 503.0,418.0C504.1,421.4 505.3,425.2 506.5,427.5C507.7,429.8 508.6,430.2 510.0,431.5C511.4,432.8 513.5,434.3 515.0,435.5C516.5,436.7 517.8,437.4 519.0,438.5C520.2,439.6 521.0,441.1 522.0,442.0C523.0,442.9 524.0,443.7 525.0,443.7C526.0,443.7 527.0,442.4 528.0,442.0C529.0,441.6 529.8,441.2 531.0,441.0C532.2,440.8 533.7,441.2 535.0,441.0C536.3,440.8 537.7,440.7 539.0,440.0C540.3,439.3 541.8,438.0 543.0,437.0C544.2,436.0 545.0,434.2 546.0,434.0C547.0,433.8 547.8,434.7 549.0,436.0C550.2,437.3 551.8,440.2 553.0,442.0C554.2,443.8 554.8,445.1 556.0,446.5C557.2,447.9 558.8,449.6 560.0,450.7C561.2,451.8 561.8,452.6 563.0,453.0C564.2,453.4 565.8,453.1 567.0,452.9C568.2,452.7 569.9,452.1 570.5,452.0" fill="none" stroke="#000" stroke-width="1.8" stroke-linejoin="round" stroke-linecap="round"/>
<line x1="486.5" y1="380.5" x2="591.6" y2="472.1" stroke="#000" stroke-width="2.5" stroke-linecap="butt" shape-rendering="crispEdges"/>
<rect x="19" y="379.4" width="9" height="2.2" fill="#000"/>
<g shape-rendering="crispEdges">
<rect x="19" y="33" width="3" height="4" fill="#000"/><rect x="20" y="34" width="1" height="2" fill="#fff"/><rect x="20" y="32" width="1" height="1" fill="#000"/><rect x="20" y="37" width="1" height="2" fill="#000"/>
<rect x="22" y="35" width="3" height="4" fill="#000"/><rect x="23" y="39" width="1" height="1" fill="#000"/>
<rect x="25" y="33" width="3" height="6" fill="#000"/><rect x="26" y="34" width="1" height="4" fill="#fff"/><rect x="26" y="32" width="1" height="1" fill="#000"/><rect x="26" y="39" width="1" height="1" fill="#000"/>
</g>
<rect x="19" y="46.6" width="9.3" height="1.9" fill="#0000a0"/>
<rect x="19" y="57.5" width="9.3" height="1.9" fill="#ff0000"/>
<g shape-rendering="crispEdges">
<rect x="19" y="67" width="3" height="5" fill="#404040"/><rect x="20" y="68" width="1" height="4" fill="#8c8c8c"/>
<rect x="22" y="64" width="3" height="8" fill="#404040"/><rect x="23" y="65" width="1" height="7" fill="#8c8c8c"/>
<rect x="25" y="66" width="3" height="6" fill="#404040"/><rect x="26" y="67" width="1" height="5" fill="#8c8c8c"/>
</g>
<polygon points="569,26 576.5,26 572.8,21.5" fill="#2a6a2a"/>
</svg>
<div id="t">
<span id="t1" style="font-family:'Liberation Sans', sans-serif;font-size:14.5px;color:#000;font-weight:bold;letter-spacing:0.000px;transform:scaleX(0.9080);transform-origin:0 0;left:16.30px;top:2.73px;line-height:14.5px;height:14.5px;">$SILVER</span>
<span id="t2" style="font-family:'Liberation Sans', sans-serif;font-size:11px;color:#000;letter-spacing:-0.129px;left:74.20px;top:5.70px;line-height:11px;height:11px;">(Silver - Continuous Contract (EOD))</span>
<span id="t3" style="font-family:'Liberation Sans', sans-serif;font-size:9.5px;color:#000;letter-spacing:0.432px;left:253.00px;top:6.86px;line-height:9.5px;height:9.5px;">INDX</span>
<span id="t4" style="font-family:'Liberation Sans', sans-serif;font-size:9.2px;color:#000;letter-spacing:0.234px;transform:scaleX(1.1195);transform-origin:0 0;left:15.60px;top:19.71px;line-height:9.2px;height:9.2px;">26-Oct-2006</span>
<span id="h1" style="font-family:'Liberation Sans', sans-serif;font-size:10px;color:#000;font-weight:bold;letter-spacing:0.255px;transform:scaleX(1.0750);transform-origin:0 0;left:215.50px;top:18.64px;line-height:10px;height:10px;">Open</span>
<span id="h2" style="font-family:'Liberation Sans', sans-serif;font-size:9px;color:#000;letter-spacing:0.133px;transform:scaleX(1.1076);transform-origin:0 0;left:249.00px;top:19.18px;line-height:9px;height:9px;">11.98</span>
<span id="h3" style="font-family:'Liberation Sans', sans-serif;font-size:10px;color:#000;font-weight:bold;letter-spacing:0.213px;transform:scaleX(1.0719);transform-origin:0 0;left:280.00px;top:18.64px;line-height:10px;height:10px;">High</span>
<span id="h4" style="font-family:'Liberation Sans', sans-serif;font-size:9px;color:#000;letter-spacing:0.113px;transform:scaleX(1.0877);transform-origin:0 0;left:308.80px;top:19.18px;line-height:9px;height:9px;">12.28</span>
<span id="h5" style="font-family:'Liberation Sans', sans-serif;font-size:10px;color:#000;font-weight:bold;letter-spacing:0.407px;transform:scaleX(1.1050);transform-origin:0 0;left:340.80px;top:18.64px;line-height:10px;height:10px;">Low</span>
<span id="h6" style="font-family:'Liberation Sans', sans-serif;font-size:9px;color:#000;letter-spacing:0.149px;transform:scaleX(1.1223);transform-origin:0 0;left:368.80px;top:19.18px;line-height:9px;height:9px;">11.35</span>
<span id="h7" style="font-family:'Liberation Sans', sans-serif;font-size:10px;color:#000;font-weight:bold;letter-spacing:0.257px;transform:scaleX(1.0968);transform-origin:0 0;left:400.80px;top:18.64px;line-height:10px;height:10px;">Close</span>
<span id="h8" style="font-family:'Liberation Sans', sans-serif;font-size:9px;color:#000;letter-spacing:0.113px;transform:scaleX(1.0877);transform-origin:0 0;left:436.00px;top:19.18px;line-height:9px;height:9px;">12.24</span>
<span id="h9" style="font-family:'Liberation Sans', sans-serif;font-size:10px;color:#000;font-weight:bold;letter-spacing:0.247px;transform:scaleX(1.0629);transform-origin:0 0;left:468.80px;top:18.64px;line-height:10px;height:10px;">Chg</span>
<span id="h10" style="font-family:'Liberation Sans', sans-serif;font-size:9px;color:#000;letter-spacing:0.148px;transform:scaleX(1.1412);transform-origin:0 0;left:493.80px;top:19.18px;line-height:9px;height:9px;">+0.27 (+2.30%)</span>
<span id="sc" style="font-family:'Liberation Sans', sans-serif;font-size:10.6px;color:#505050;letter-spacing:-0.088px;left:486.00px;top:4.93px;line-height:10.6px;height:10.6px;">© StockCharts.com</span>
<span id="l1a" style="font-family:'Liberation Sans', sans-serif;font-size:9.4px;color:#000;letter-spacing:0.394px;transform:scaleX(1.1034);transform-origin:0 0;left:31.50px;top:32.34px;line-height:9.4px;height:9.4px;">$SILVER</span>
<span id="l1b" style="font-family:'Liberation Sans', sans-serif;font-size:9.4px;color:#000;letter-spacing:0.581px;transform:scaleX(1.1986);transform-origin:0 0;left:81.60px;top:32.34px;line-height:9.4px;height:9.4px;">(Weekly)</span>
<span id="l1c" style="font-family:'Liberation Sans', sans-serif;font-size:9.4px;color:#000;letter-spacing:0.537px;transform:scaleX(1.1593);transform-origin:0 0;left:136.00px;top:32.34px;line-height:9.4px;height:9.4px;">12.24</span>
<span id="l2" style="font-family:'Liberation Sans', sans-serif;font-size:9.7px;color:#000098;letter-spacing:0.035px;transform:scaleX(1.0155);transform-origin:0 0;left:29.20px;top:44.19px;line-height:9.7px;height:9.7px;">MA(50) 10.94</span>
<span id="l3" style="font-family:'Liberation Sans', sans-serif;font-size:9.7px;color:#f00000;letter-spacing:0.013px;transform:scaleX(1.0059);transform-origin:0 0;left:29.20px;top:54.69px;line-height:9.7px;height:9.7px;">MA(200) 7.39</span>
<span id="l4" style="font-family:'Liberation Sans', sans-serif;font-size:9.4px;color:#505050;letter-spacing:0.137px;transform:scaleX(1.0654);transform-origin:0 0;left:29.70px;top:63.94px;line-height:9.4px;height:9.4px;">Volume undef</span>
<span id="bp" style="font-family:'Liberation Sans', sans-serif;font-size:16px;color:#0033ff;font-weight:bold;letter-spacing:0.000px;left:336.50px;top:49.46px;line-height:16px;height:16px;">Bullish pennant</span>
<span id="mo" style="font-family:'Liberation Sans', sans-serif;font-size:14px;color:#0033ff;font-weight:bold;letter-spacing:-0.142px;left:138.40px;top:401.15px;line-height:14px;height:14px;">(c) MarketOracle.co.uk</span>
<span id="m1a" style="font-family:'Liberation Sans', sans-serif;font-size:9.4px;color:#000;letter-spacing:0.516px;transform:scaleX(1.1663);transform-origin:0 0;left:31.80px;top:377.34px;line-height:9.4px;height:9.4px;">MACD(12,26,9)</span>
<span id="m1b" style="font-family:'Liberation Sans', sans-serif;font-size:9.4px;color:#000;letter-spacing:0.610px;transform:scaleX(1.1849);transform-origin:0 0;left:120.40px;top:377.34px;line-height:9.4px;height:9.4px;">0.202</span>
<span id="m2a" style="font-family:'Liberation Sans', sans-serif;font-size:9.4px;color:#f00000;letter-spacing:-0.409px;left:152.80px;top:377.34px;line-height:9.4px;height:9.4px;">,</span>
<span id="m2b" style="font-family:'Liberation Sans', sans-serif;font-size:9.4px;color:#f00000;letter-spacing:0.560px;transform:scaleX(1.1670);transform-origin:0 0;left:160.80px;top:377.34px;line-height:9.4px;height:9.4px;">0.252</span>
<span id="m3a" style="font-family:'Liberation Sans', sans-serif;font-size:9.4px;color:#3399cc;letter-spacing:-0.509px;left:193.10px;top:377.34px;line-height:9.4px;height:9.4px;">,</span>
<span id="m3b" style="font-family:'Liberation Sans', sans-serif;font-size:9.4px;color:#3399cc;letter-spacing:0.560px;transform:scaleX(1.1874);transform-origin:0 0;left:201.00px;top:377.34px;line-height:9.4px;height:9.4px;">-0.050</span>
<span id="p0" style="font-family:'Liberation Sans', sans-serif;font-size:10px;color:#000;letter-spacing:0.044px;left:580.60px;top:39.00px;line-height:10px;height:10px;">15.0</span>
<span id="p1" style="font-family:'Liberation Sans', sans-serif;font-size:10px;color:#000;letter-spacing:0.044px;left:580.60px;top:54.00px;line-height:10px;height:10px;">14.5</span>
<span id="p2" style="font-family:'Liberation Sans', sans-serif;font-size:10px;color:#000;letter-spacing:0.044px;left:580.60px;top:70.00px;line-height:10px;height:10px;">14.0</span>
<span id="p3" style="font-family:'Liberation Sans', sans-serif;font-size:10px;color:#000;letter-spacing:0.044px;left:580.60px;top:85.00px;line-height:10px;height:10px;">13.5</span>
<span id="p4" style="font-family:'Liberation Sans', sans-serif;font-size:10px;color:#000;letter-spacing:0.044px;left:580.60px;top:100.00px;line-height:10px;height:10px;">13.0</span>
<span id="p5" style="font-family:'Liberation Sans', sans-serif;font-size:10px;color:#000;letter-spacing:0.044px;left:580.60px;top:116.00px;line-height:10px;height:10px;">12.5</span>
<span id="p6" style="font-family:'Liberation Sans', sans-serif;font-size:10px;color:#000;letter-spacing:0.044px;left:580.60px;top:131.00px;line-height:10px;height:10px;">12.0</span>
<span id="p7" style="font-family:'Liberation Sans', sans-serif;font-size:10px;color:#000;letter-spacing:0.289px;left:580.60px;top:146.00px;line-height:10px;height:10px;">11.5</span>
<span id="p8" style="font-family:'Liberation Sans', sans-serif;font-size:10px;color:#000;letter-spacing:0.289px;left:580.60px;top:162.00px;line-height:10px;height:10px;">11.0</span>
<span id="p9" style="font-family:'Liberation Sans', sans-serif;font-size:10px;color:#000;letter-spacing:0.044px;left:580.60px;top:177.00px;line-height:10px;height:10px;">10.5</span>
<span id="p10" style="font-family:'Liberation Sans', sans-serif;font-size:10px;color:#000;letter-spacing:0.044px;left:580.60px;top:192.00px;line-height:10px;height:10px;">10.0</span>
<span id="p11" style="font-family:'Liberation Sans', sans-serif;font-size:10px;color:#000;letter-spacing:0.097px;left:586.10px;top:208.00px;line-height:10px;height:10px;">9.5</span>
<span id="p12" style="font-family:'Liberation Sans', sans-serif;font-size:10px;color:#000;letter-spacing:0.097px;left:586.10px;top:223.00px;line-height:10px;height:10px;">9.0</span>
<span id="p13" style="font-family:'Liberation Sans', sans-serif;font-size:10px;color:#000;letter-spacing:0.097px;left:586.10px;top:238.00px;line-height:10px;height:10px;">8.5</span>
<span id="p14" style="font-family:'Liberation Sans', sans-serif;font-size:10px;color:#000;letter-spacing:0.097px;left:586.10px;top:254.00px;line-height:10px;height:10px;">8.0</span>
<span id="p15" style="font-family:'Liberation Sans', sans-serif;font-size:10px;color:#000;letter-spacing:0.097px;left:586.10px;top:269.00px;line-height:10px;height:10px;">7.5</span>
<span id="p16" style="font-family:'Liberation Sans', sans-serif;font-size:10px;color:#000;letter-spacing:0.097px;left:586.10px;top:285.00px;line-height:10px;height:10px;">7.0</span>
<span id="p17" style="font-family:'Liberation Sans', sans-serif;font-size:10px;color:#000;letter-spacing:0.097px;left:586.10px;top:300.00px;line-height:10px;height:10px;">6.5</span>
<span id="p18" style="font-family:'Liberation Sans', sans-serif;font-size:10px;color:#000;letter-spacing:0.097px;left:586.10px;top:315.00px;line-height:10px;height:10px;">6.0</span>
<span id="p19" style="font-family:'Liberation Sans', sans-serif;font-size:10px;color:#000;letter-spacing:0.097px;left:586.10px;top:331.00px;line-height:10px;height:10px;">5.5</span>
<span id="p20" style="font-family:'Liberation Sans', sans-serif;font-size:10px;color:#000;letter-spacing:0.097px;left:586.10px;top:346.00px;line-height:10px;height:10px;">5.0</span>
<span id="q0" style="font-family:'Liberation Sans', sans-serif;font-size:10px;color:#000;letter-spacing:0.301px;left:579.40px;top:473.00px;line-height:10px;height:10px;">-0.25</span>
<span id="q1" style="font-family:'Liberation Sans', sans-serif;font-size:10px;color:#000;letter-spacing:0.044px;left:583.80px;top:459.00px;line-height:10px;height:10px;">0.00</span>
<span id="q2" style="font-family:'Liberation Sans', sans-serif;font-size:10px;color:#000;letter-spacing:0.044px;left:583.80px;top:445.00px;line-height:10px;height:10px;">0.25</span>
<span id="q3" style="font-family:'Liberation Sans', sans-serif;font-size:10px;color:#000;letter-spacing:0.044px;left:583.80px;top:431.00px;line-height:10px;height:10px;">0.50</span>
<span id="q4" style="font-family:'Liberation Sans', sans-serif;font-size:10px;color:#000;letter-spacing:0.044px;left:583.80px;top:418.00px;line-height:10px;height:10px;">0.75</span>
<span id="q5" style="font-family:'Liberation Sans', sans-serif;font-size:10px;color:#000;letter-spacing:0.044px;left:583.80px;top:404.00px;line-height:10px;height:10px;">1.00</span>
<span id="q6" style="font-family:'Liberation Sans', sans-serif;font-size:10px;color:#000;letter-spacing:0.044px;left:583.80px;top:390.00px;line-height:10px;height:10px;">1.25</span>
<span id="q7" style="font-family:'Liberation Sans', sans-serif;font-size:10px;color:#000;letter-spacing:0.044px;left:583.80px;top:376.00px;line-height:10px;height:10px;">1.50</span>
<span id="xa0" style="font-family:'Liberation Sans', sans-serif;font-size:9.8px;color:#000;left:18.76px;top:364.00px;line-height:9.8px;height:9.8px;">N</span>
<span id="xb0" style="font-family:'Liberation Sans', sans-serif;font-size:9.8px;color:#000;left:18.76px;top:495.00px;line-height:9.8px;height:9.8px;">N</span>
<span id="xa1" style="font-family:'Liberation Sans', sans-serif;font-size:9.8px;color:#000;left:32.96px;top:364.00px;line-height:9.8px;height:9.8px;">D</span>
<span id="xb1" style="font-family:'Liberation Sans', sans-serif;font-size:9.8px;color:#000;left:32.96px;top:495.00px;line-height:9.8px;height:9.8px;">D</span>
<span id="xa2" style="font-family:'Liberation Serif', serif;font-size:11px;color:#000;font-weight:bold;letter-spacing:1.200px;left:47.20px;top:363.00px;line-height:11px;height:11px;">04</span>
<span id="xb2" style="font-family:'Liberation Serif', serif;font-size:11px;color:#000;font-weight:bold;letter-spacing:1.200px;left:47.20px;top:494.00px;line-height:11px;height:11px;">04</span>
<span id="xa3" style="font-family:'Liberation Sans', sans-serif;font-size:9.8px;color:#000;left:65.91px;top:364.00px;line-height:9.8px;height:9.8px;">F</span>
<span id="xb3" style="font-family:'Liberation Sans', sans-serif;font-size:9.8px;color:#000;left:65.91px;top:495.00px;line-height:9.8px;height:9.8px;">F</span>
<span id="xa4" style="font-family:'Liberation Sans', sans-serif;font-size:9.8px;color:#000;left:79.61px;top:364.00px;line-height:9.8px;height:9.8px;">M</span>
<span id="xb4" style="font-family:'Liberation Sans', sans-serif;font-size:9.8px;color:#000;left:79.61px;top:495.00px;line-height:9.8px;height:9.8px;">M</span>
<span id="xa5" style="font-family:'Liberation Sans', sans-serif;font-size:9.8px;color:#000;left:97.63px;top:364.00px;line-height:9.8px;height:9.8px;">A</span>
<span id="xb5" style="font-family:'Liberation Sans', sans-serif;font-size:9.8px;color:#000;left:97.63px;top:495.00px;line-height:9.8px;height:9.8px;">A</span>
<span id="xa6" style="font-family:'Liberation Sans', sans-serif;font-size:9.8px;color:#000;left:110.81px;top:364.00px;line-height:9.8px;height:9.8px;">M</span>
<span id="xb6" style="font-family:'Liberation Sans', sans-serif;font-size:9.8px;color:#000;left:110.81px;top:495.00px;line-height:9.8px;height:9.8px;">M</span>
<span id="xa7" style="font-family:'Liberation Sans', sans-serif;font-size:9.8px;color:#000;left:126.45px;top:364.00px;line-height:9.8px;height:9.8px;">J</span>
<span id="xb7" style="font-family:'Liberation Sans', sans-serif;font-size:9.8px;color:#000;left:126.45px;top:495.00px;line-height:9.8px;height:9.8px;">J</span>
<span id="xa8" style="font-family:'Liberation Sans', sans-serif;font-size:9.8px;color:#000;left:145.25px;top:364.00px;line-height:9.8px;height:9.8px;">J</span>
<span id="xb8" style="font-family:'Liberation Sans', sans-serif;font-size:9.8px;color:#000;left:145.25px;top:495.00px;line-height:9.8px;height:9.8px;">J</span>
<span id="xa9" style="font-family:'Liberation Sans', sans-serif;font-size:9.8px;color:#000;left:157.73px;top:364.00px;line-height:9.8px;height:9.8px;">A</span>
<span id="xb9" style="font-family:'Liberation Sans', sans-serif;font-size:9.8px;color:#000;left:157.73px;top:495.00px;line-height:9.8px;height:9.8px;">A</span>
<span id="xa10" style="font-family:'Liberation Sans', sans-serif;font-size:9.8px;color:#000;left:175.63px;top:364.00px;line-height:9.8px;height:9.8px;">S</span>
<span id="xb10" style="font-family:'Liberation Sans', sans-serif;font-size:9.8px;color:#000;left:175.63px;top:495.00px;line-height:9.8px;height:9.8px;">S</span>
<span id="xa11" style="font-family:'Liberation Sans', sans-serif;font-size:9.8px;color:#000;left:188.89px;top:364.00px;line-height:9.8px;height:9.8px;">O</span>
<span id="xb11" style="font-family:'Liberation Sans', sans-serif;font-size:9.8px;color:#000;left:188.89px;top:495.00px;line-height:9.8px;height:9.8px;">O</span>
<span id="xa12" style="font-family:'Liberation Sans', sans-serif;font-size:9.8px;color:#000;left:203.96px;top:364.00px;line-height:9.8px;height:9.8px;">N</span>
<span id="xb12" style="font-family:'Liberation Sans', sans-serif;font-size:9.8px;color:#000;left:203.96px;top:495.00px;line-height:9.8px;height:9.8px;">N</span>
<span id="xa13" style="font-family:'Liberation Sans', sans-serif;font-size:9.8px;color:#000;left:221.16px;top:364.00px;line-height:9.8px;height:9.8px;">D</span>
<span id="xb13" style="font-family:'Liberation Sans', sans-serif;font-size:9.8px;color:#000;left:221.16px;top:495.00px;line-height:9.8px;height:9.8px;">D</span>
<span id="xa14" style="font-family:'Liberation Serif', serif;font-size:11px;color:#000;font-weight:bold;letter-spacing:1.200px;left:230.60px;top:363.00px;line-height:11px;height:11px;">05</span>
<span id="xb14" style="font-family:'Liberation Serif', serif;font-size:11px;color:#000;font-weight:bold;letter-spacing:1.200px;left:230.60px;top:494.00px;line-height:11px;height:11px;">05</span>
<span id="xa15" style="font-family:'Liberation Sans', sans-serif;font-size:9.8px;color:#000;left:253.01px;top:364.00px;line-height:9.8px;height:9.8px;">F</span>
<span id="xb15" style="font-family:'Liberation Sans', sans-serif;font-size:9.8px;color:#000;left:253.01px;top:495.00px;line-height:9.8px;height:9.8px;">F</span>
<span id="xa16" style="font-family:'Liberation Sans', sans-serif;font-size:9.8px;color:#000;left:266.81px;top:364.00px;line-height:9.8px;height:9.8px;">M</span>
<span id="xb16" style="font-family:'Liberation Sans', sans-serif;font-size:9.8px;color:#000;left:266.81px;top:495.00px;line-height:9.8px;height:9.8px;">M</span>
<span id="xa17" style="font-family:'Liberation Sans', sans-serif;font-size:9.8px;color:#000;left:281.63px;top:364.00px;line-height:9.8px;height:9.8px;">A</span>
<span id="xb17" style="font-family:'Liberation Sans', sans-serif;font-size:9.8px;color:#000;left:281.63px;top:495.00px;line-height:9.8px;height:9.8px;">A</span>
<span id="xa18" style="font-family:'Liberation Sans', sans-serif;font-size:9.8px;color:#000;left:294.81px;top:364.00px;line-height:9.8px;height:9.8px;">M</span>
<span id="xb18" style="font-family:'Liberation Sans', sans-serif;font-size:9.8px;color:#000;left:294.81px;top:495.00px;line-height:9.8px;height:9.8px;">M</span>
<span id="xa19" style="font-family:'Liberation Sans', sans-serif;font-size:9.8px;color:#000;left:314.75px;top:364.00px;line-height:9.8px;height:9.8px;">J</span>
<span id="xb19" style="font-family:'Liberation Sans', sans-serif;font-size:9.8px;color:#000;left:314.75px;top:495.00px;line-height:9.8px;height:9.8px;">J</span>
<span id="xa20" style="font-family:'Liberation Sans', sans-serif;font-size:9.8px;color:#000;left:329.25px;top:364.00px;line-height:9.8px;height:9.8px;">J</span>
<span id="xb20" style="font-family:'Liberation Sans', sans-serif;font-size:9.8px;color:#000;left:329.25px;top:495.00px;line-height:9.8px;height:9.8px;">J</span>
<span id="xa21" style="font-family:'Liberation Sans', sans-serif;font-size:9.8px;color:#000;left:341.93px;top:364.00px;line-height:9.8px;height:9.8px;">A</span>
<span id="xb21" style="font-family:'Liberation Sans', sans-serif;font-size:9.8px;color:#000;left:341.93px;top:495.00px;line-height:9.8px;height:9.8px;">A</span>
<span id="xa22" style="font-family:'Liberation Sans', sans-serif;font-size:9.8px;color:#000;left:359.03px;top:364.00px;line-height:9.8px;height:9.8px;">S</span>
<span id="xb22" style="font-family:'Liberation Sans', sans-serif;font-size:9.8px;color:#000;left:359.03px;top:495.00px;line-height:9.8px;height:9.8px;">S</span>
<span id="xa23" style="font-family:'Liberation Sans', sans-serif;font-size:9.8px;color:#000;left:372.79px;top:364.00px;line-height:9.8px;height:9.8px;">O</span>
<span id="xb23" style="font-family:'Liberation Sans', sans-serif;font-size:9.8px;color:#000;left:372.79px;top:495.00px;line-height:9.8px;height:9.8px;">O</span>
<span id="xa24" style="font-family:'Liberation Sans', sans-serif;font-size:9.8px;color:#000;left:391.16px;top:364.00px;line-height:9.8px;height:9.8px;">N</span>
<span id="xb24" style="font-family:'Liberation Sans', sans-serif;font-size:9.8px;color:#000;left:391.16px;top:495.00px;line-height:9.8px;height:9.8px;">N</span>
<span id="xa25" style="font-family:'Liberation Sans', sans-serif;font-size:9.8px;color:#000;left:405.16px;top:364.00px;line-height:9.8px;height:9.8px;">D</span>
<span id="xb25" style="font-family:'Liberation Sans', sans-serif;font-size:9.8px;color:#000;left:405.16px;top:495.00px;line-height:9.8px;height:9.8px;">D</span>
<span id="xa26" style="font-family:'Liberation Serif', serif;font-size:11px;color:#000;font-weight:bold;letter-spacing:1.200px;left:415.20px;top:363.00px;line-height:11px;height:11px;">06</span>
<span id="xb26" style="font-family:'Liberation Serif', serif;font-size:11px;color:#000;font-weight:bold;letter-spacing:1.200px;left:415.20px;top:494.00px;line-height:11px;height:11px;">06</span>
<span id="xa27" style="font-family:'Liberation Sans', sans-serif;font-size:9.8px;color:#000;left:437.01px;top:364.00px;line-height:9.8px;height:9.8px;">F</span>
<span id="xb27" style="font-family:'Liberation Sans', sans-serif;font-size:9.8px;color:#000;left:437.01px;top:495.00px;line-height:9.8px;height:9.8px;">F</span>
<span id="xa28" style="font-family:'Liberation Sans', sans-serif;font-size:9.8px;color:#000;left:451.01px;top:364.00px;line-height:9.8px;height:9.8px;">M</span>
<span id="xb28" style="font-family:'Liberation Sans', sans-serif;font-size:9.8px;color:#000;left:451.01px;top:495.00px;line-height:9.8px;height:9.8px;">M</span>
<span id="xa29" style="font-family:'Liberation Sans', sans-serif;font-size:9.8px;color:#000;left:465.73px;top:364.00px;line-height:9.8px;height:9.8px;">A</span>
<span id="xb29" style="font-family:'Liberation Sans', sans-serif;font-size:9.8px;color:#000;left:465.73px;top:495.00px;line-height:9.8px;height:9.8px;">A</span>
<span id="xa30" style="font-family:'Liberation Sans', sans-serif;font-size:9.8px;color:#000;left:479.21px;top:364.00px;line-height:9.8px;height:9.8px;">M</span>
<span id="xb30" style="font-family:'Liberation Sans', sans-serif;font-size:9.8px;color:#000;left:479.21px;top:495.00px;line-height:9.8px;height:9.8px;">M</span>
<span id="xa31" style="font-family:'Liberation Sans', sans-serif;font-size:9.8px;color:#000;left:498.45px;top:364.00px;line-height:9.8px;height:9.8px;">J</span>
<span id="xb31" style="font-family:'Liberation Sans', sans-serif;font-size:9.8px;color:#000;left:498.45px;top:495.00px;line-height:9.8px;height:9.8px;">J</span>
<span id="xa32" style="font-family:'Liberation Sans', sans-serif;font-size:9.8px;color:#000;left:512.45px;top:364.00px;line-height:9.8px;height:9.8px;">J</span>
<span id="xb32" style="font-family:'Liberation Sans', sans-serif;font-size:9.8px;color:#000;left:512.45px;top:495.00px;line-height:9.8px;height:9.8px;">J</span>
<span id="xa33" style="font-family:'Liberation Sans', sans-serif;font-size:9.8px;color:#000;left:529.93px;top:364.00px;line-height:9.8px;height:9.8px;">A</span>
<span id="xb33" style="font-family:'Liberation Sans', sans-serif;font-size:9.8px;color:#000;left:529.93px;top:495.00px;line-height:9.8px;height:9.8px;">A</span>
<span id="xa34" style="font-family:'Liberation Sans', sans-serif;font-size:9.8px;color:#000;left:543.93px;top:364.00px;line-height:9.8px;height:9.8px;">S</span>
<span id="xb34" style="font-family:'Liberation Sans', sans-serif;font-size:9.8px;color:#000;left:543.93px;top:495.00px;line-height:9.8px;height:9.8px;">S</span>
<span id="xa35" style="font-family:'Liberation Sans', sans-serif;font-size:9.8px;color:#000;left:556.99px;top:364.00px;line-height:9.8px;height:9.8px;">O</span>
<span id="xb35" style="font-family:'Liberation Sans', sans-serif;font-size:9.8px;color:#000;left:556.99px;top:495.00px;line-height:9.8px;height:9.8px;">O</span>
</div>
</div>
</body></html>
